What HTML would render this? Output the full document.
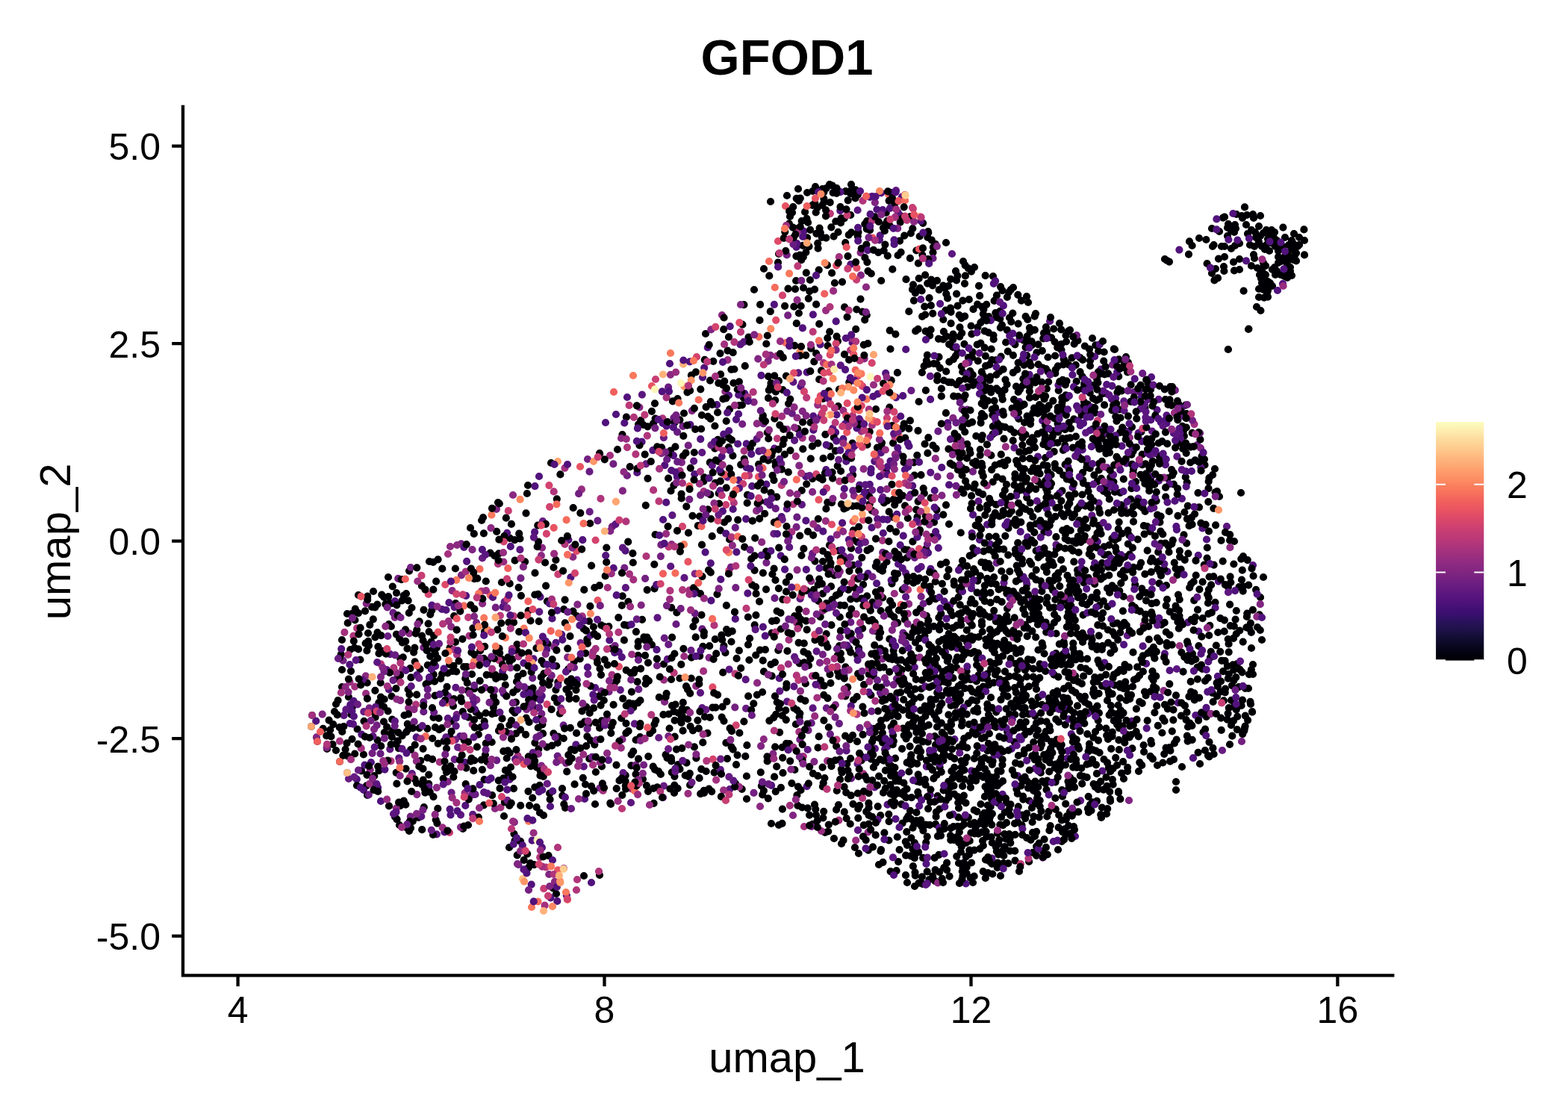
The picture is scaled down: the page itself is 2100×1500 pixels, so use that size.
<!DOCTYPE html>
<html lang="en"><head><meta charset="utf-8"><title>GFOD1 feature plot</title>
<style>
html,body{margin:0;padding:0;background:#fff}
body{width:2100px;height:1500px;overflow:hidden;font-family:"Liberation Sans",sans-serif}
svg{display:block}
.sr{position:absolute;left:0;top:0;width:1px;height:1px;overflow:hidden;opacity:0;font-size:1px}
</style></head><body>
<svg width="2100" height="1500" viewBox="0 0 2100 1500" role="img" aria-label="GFOD1 UMAP feature plot">
<rect width="2100" height="1500" fill="#fff"/>
<g fill="none" stroke-width="10.2" stroke-linecap="round">
<path d="M721.3 1003.2h0M1433.3 1041.7h0M1587.9 542.7h0M972.4 994.9h0M1360.1 1021.8h0M1581.6 762.5h0M1101.3 274.8h0M753.3 1065.7h0M1332.9 903.3h0M1501.3 958.1h0M1127 1130h0M1401.2 846.7h0M1436.9 737.6h0M464.5 995.4h0M1248.2 719.2h0M1388.4 911.2h0M519.6 952.4h0M1026.3 460.5h0M1161.5 595.6h0M1305.6 648.7h0M1308.2 1008.8h0M572.8 890.8h0M1334.4 502h0M1479.4 570.9h0M1197.4 826.3h0M1423.2 710.4h0M586.1 881.5h0M1485.5 930.2h0M1421.4 670.9h0M1360.3 888.9h0M1579.1 817.4h0M1414.8 735.2h0M755.1 816.1h0M652.9 885.1h0M1246.7 666.9h0M1528.4 578.4h0M1588.8 572.5h0M1073.7 296.1h0M864.6 916h0M1395.6 784.6h0M1307.9 938.7h0M940.5 772.1h0M1364.2 746.8h0M704.5 687.3h0M1382.6 883.8h0M1119.8 797.3h0M1211.2 315.7h0M1053 995.9h0M1362.3 494.9h0M1033.4 610.1h0M1534.7 931.5h0M1530.7 878.3h0M790.2 701h0M1076.4 872.9h0M1039.7 831.1h0M1228.3 609.8h0M739.2 998.7h0M962.7 660.7h0M1591 973.5h0M1142.4 756.8h0M1682.1 789.9h0M1328.1 697.9h0M1026.1 738.6h0M1021.1 927h0M1239.9 1104.7h0M1196.6 871.1h0M1397 1140.3h0M923.8 1035.8h0M465 822h0M1388.4 633h0M941.4 865.8h0M1526.3 799h0M664.5 872.2h0M1315.3 410.9h0M1285.5 613.1h0M1623.7 927.9h0M1548.6 670.8h0M1405.5 940.6h0M1230.5 1042.9h0M986 1024.1h0M1426.9 715.5h0M1463 453h0M1082.1 298h0M1002.2 932.4h0M1494 733.2h0M1498.2 504.2h0M874.1 978.5h0M796.3 997.3h0M1313.4 432.1h0M1456 620.8h0M1460.1 1077.6h0M1276.4 908.2h0M1395.4 792h0M1230.7 714.4h0M1125.1 1043.9h0M1456.1 882.3h0M1238.2 973.2h0M1332.8 744.9h0M627 1105h0M1353.5 1077.3h0M1473.9 907.2h0M1400.4 740.8h0M1426.8 970.6h0M1195.1 883.1h0M1361.8 546.4h0M797.7 967.6h0M797 1077h0M1319.8 1176h0M1182.2 800.5h0M1506.3 746h0M1327.2 525.5h0M484 1032.4h0M1363.1 945.4h0M1055.5 386.7h0M951 509.6h0M1353.7 388.1h0M1065.6 306.4h0M1604.6 1007.8h0M1301.4 447.4h0M1474.3 775.7h0M1589.7 646h0M1122.5 310.9h0M1289.5 1172.8h0M1358.4 579.4h0M1038.2 536.1h0M993.7 1056.8h0M1488.2 1002.9h0M1149.3 1095.6h0M1604.5 660.1h0M1299.5 607h0M1192.4 822.7h0M1198.2 676.1h0M1373.1 1096.1h0M1416.3 996.7h0M1258.1 1167.9h0M1010 388h0M1515.4 608.9h0M1549.2 945.4h0M1038.9 524.7h0M857.5 938h0M1431 806.3h0M1091.5 857.2h0M840.5 837.7h0M1355.6 546.9h0M1301.7 937.7h0M794.9 839.5h0M1403.7 498h0M1456.9 1083.1h0M1484.1 759.3h0M1337.6 789.3h0M1296.6 942.1h0M682.5 886.1h0M1390.5 746.6h0M1391.7 1094.5h0M1401 494.2h0M1268.5 973.6h0M1346.5 508.6h0M558.1 1049h0M1101.8 795.2h0M1322.2 774.9h0M1279.1 924.1h0M1381.7 457.4h0M942.4 644.7h0M687.1 927.3h0M1192.5 467.5h0M1577.4 562.5h0M1084.1 1091.6h0M1203.1 1154.1h0M1588.7 964.2h0M921 923.3h0M1143 937.5h0M1279.8 860.9h0M1130.7 292.5h0M1498.5 481.3h0M1211.6 915.1h0M524.8 986.9h0M1255 973.5h0M1305.4 1116.4h0M1402.6 623.9h0M1393.9 778.3h0M1546.4 954.4h0M1080.2 791h0M1528.1 753.8h0M1619.6 772.5h0M1506.3 994.7h0M1521.1 645.1h0M1491.8 965.2h0M1357.3 844.3h0M662.5 744.5h0M1446.8 1038.9h0M1241.9 475.7h0M843.7 625.2h0M779.5 952.4h0M1183.1 513.6h0M520.2 799.2h0M1139.1 1015.8h0M648 881.8h0M772.5 825.2h0M1302.1 565.3h0M1492.4 869.6h0M1084.9 375h0M1089.9 789.9h0M1490.6 1050.7h0M1402.7 659.2h0M1251.9 986h0M1490.5 907.9h0M1461.2 679.9h0M1533.6 684.9h0M1092 250h0M1514.3 537.9h0M1161.1 296.2h0M1378.5 1072.5h0M763.5 852.2h0M620 1110h0M1417.9 967h0M1491.8 903.7h0M1403.4 631.3h0M782.3 789.9h0M1400.1 530.7h0M682 1135h0M1113.5 1026.2h0M977.1 722.5h0M1366.9 910h0M1168.2 1045.1h0M1186.9 631.8h0M1353.3 1128.8h0M1223.9 619.3h0M1214.9 746.8h0M1526.8 846.1h0M1249.2 419.8h0M1148 993.2h0M1417.4 906.6h0M1533.4 546.5h0M903.7 986.7h0M1249.5 338.1h0M1209.4 975.5h0M1533.4 768.9h0M761.1 896.1h0M1198 767.9h0M1428.8 839.6h0M796.3 787h0M1223.1 966.5h0M1548.7 807.1h0M1379.7 703.7h0M1096.7 986.4h0M1248.2 1016.2h0M1290.6 567.6h0M686.5 951.6h0M1464.7 760.3h0M1148.1 726h0M1219.1 290.2h0M1534.2 621.3h0M709.1 1078.8h0M1217.6 884.2h0M1384.7 590h0M1339.3 416.8h0M1430.8 724h0M1002 863.3h0M1383 1115.2h0M1387.6 737.6h0M1472.5 810.8h0M1136.7 314.6h0M1196.7 668.8h0M1259.8 836.1h0M736.4 910.5h0M694.6 786.8h0M1287.3 830.4h0M1202 768.5h0M1292.9 369.4h0M459.4 1011.8h0M1369.6 586.3h0M1459.7 526.2h0M1048.8 478.9h0M1179.6 818.1h0M1075.1 565.3h0M1095.3 593.7h0M514 966.5h0M1284.8 1114.4h0M790.9 991.6h0M450 1005h0M1229.7 1037.3h0M1613.9 1005h0M744.4 750h0M1193.7 509.4h0M1395.6 1027.4h0M647.9 1078.3h0M1486.1 793.7h0M1147.3 414.5h0M1198.7 1040.9h0M510.2 944.8h0M1440.2 905.5h0M707.7 818h0M1618.3 672.1h0M1474.9 640.8h0M479.9 821.2h0M1227.4 980.9h0M1195.4 863.1h0M1192.3 932.8h0M1345.7 1087.9h0M1238.4 851.8h0M576.2 878.8h0M1504.2 492.2h0M1448.7 936.5h0M1512.7 987.3h0M539.8 880.3h0M1307.1 1045.6h0M799.5 882.2h0M1233.2 1098.3h0M1449.3 546.1h0M1515.4 654.2h0M1557.4 1021.5h0M1427.3 1117.7h0M1450 859.9h0M1353.5 882h0M1327 1064.2h0M525.2 963.5h0M1260.8 530.7h0M1459 996.3h0M835.9 857.4h0M1417.9 1031.9h0M1428.3 877.4h0M1186 300h0M997.8 490.2h0M1079.6 831.6h0M1515 930.8h0M1358 535.1h0M587.6 962h0M1156.8 461.8h0M1462.6 856.8h0M1081.1 318.4h0M1660.3 844.5h0M1064.3 462.8h0M1381.2 755.6h0M1117 1123h0M1338 735.4h0M492.2 798.7h0M1232.6 815h0M1308.7 461.5h0M1483.2 661.1h0M572.5 1015h0M732.9 805.4h0M1385.7 423.7h0M1677.1 953.7h0M1329.7 645.5h0M1410.6 928.1h0M501.3 1039.2h0M1350.5 832h0M1095.8 695h0M1212.3 586.5h0M1163.8 831.5h0M1423.9 602.9h0M1125.9 875h0M1246.8 409.2h0M1457.6 1006.3h0M1359.4 635.1h0M1408.2 452.3h0M1590.5 884.2h0M1298.6 602.5h0M1250.4 1042.7h0M1378.9 485.4h0M1271.1 461.1h0M891.6 1010.9h0M962.3 618h0M514 946.6h0M916 553.5h0M1117.5 770.4h0M1644.9 786.2h0M1322.3 943.2h0M1391.4 813h0M1354.3 431h0M1095.2 325.8h0M1215.2 778.6h0M1489.4 721.4h0M1639.9 830.6h0M487.5 965.8h0M1516.4 1002.4h0M1405.3 777.5h0M1276.3 464.9h0M1276.4 840.9h0M1570.8 723.6h0M1043.2 733.7h0M888.9 889.5h0M1498.6 754.3h0M1069.9 269h0M1395.3 545h0M1266.1 989.5h0M1373.8 644.7h0M934.4 964.8h0M1578.5 541.3h0M1416.2 465.3h0M1452.1 514.2h0M1520.3 783.2h0M1163.6 1091.9h0M1400.9 575.1h0M1537.5 874.7h0M1364 673.8h0M1635.2 961.6h0M1109.8 974h0M1100.5 861h0M1027.8 579.3h0M980.7 845.4h0M691.1 982.3h0M1139.7 1065.4h0M1232 709.9h0M969.5 965.6h0M1327.4 781.5h0M1517 919.5h0M1517.2 766.6h0M1514.4 685.6h0M1341.7 806.2h0M1353.3 1092h0M1193.9 1032.8h0M1442.5 849h0M1179.3 790.4h0M465.7 834.4h0M692.5 863h0M1145 1135h0M1625.7 756.6h0M1366 775.7h0M1531 641.1h0M649.9 1011.1h0M948.1 557.8h0M538.3 804.5h0M1322 964.9h0M1349.2 980.1h0M1287.7 1019.2h0M1686.7 823.3h0M1284.5 1000.6h0M1129.5 1125.4h0M1500.2 847.1h0M1210.8 567.6h0M1395.5 943.8h0M678.7 1015.5h0M973.4 939.6h0M1047.6 1000.8h0M1566.7 819.4h0M1250.7 767.7h0M1449.4 662.5h0M721.7 832.1h0M1385 546.6h0M1422.9 804h0M1652 854.9h0M1132.6 256.2h0M875.6 1075.8h0M1268.1 1155.6h0M1185.9 937.1h0M1609.5 611.2h0M577.5 859.7h0M1440.5 927.6h0M1293.8 1147.3h0M1550.4 761.8h0M1337.7 523.4h0M1161.4 351.1h0M1438.3 968.9h0M1072.5 1058.2h0M713.2 1068.6h0M1064.2 825.1h0M1473.1 686.8h0M1174.5 888.3h0M540.7 797.7h0M1306.5 1109.6h0M1317.3 428.3h0M1243.1 1083.1h0M1223.2 1021.3h0M432.7 975.9h0M712.7 938.5h0M498.1 812.9h0M1175.9 952.4h0M860 829.9h0M988.2 696.3h0M1563.7 640.3h0M1180 1138h0M1393.8 1035h0M899.2 1019.4h0M1365 1167h0M1425.7 551.1h0M486.9 1010.5h0M1236.7 654.1h0M1043 340h0M682.9 720.8h0M1301.2 1040.5h0M1450.4 701.1h0M1610.6 779.3h0M1112.4 914.9h0M1541.1 751.9h0M746.2 940.7h0M1140 734.4h0M778 970.1h0M1331.8 873.8h0M1357 792.1h0M1367.1 579.3h0M1155.1 841.7h0M1374 931.6h0M1236.1 1148.9h0M1298.9 832.7h0M1417.8 883h0M1481.4 607.3h0M1244.2 805.7h0M924.8 626.8h0M490.9 1052.3h0M1393 803h0M1542.1 995.9h0M1251.1 873.6h0M928 978.3h0M1327.6 1055.8h0M1296.9 1094.8h0M1413.7 495h0M1351.5 905.9h0M1309.5 438.3h0M1339.3 1104.5h0M910.5 1030.2h0M1634.2 872.8h0M1272.9 412.6h0M1295.1 758.1h0M1414.2 875.1h0M1530.6 680.4h0M1649.1 937.9h0M1106.4 760.8h0M671.9 882.8h0M456.8 876.4h0M1457.7 1066.8h0M1522.4 817.2h0M1370.1 1066.5h0M1034.6 636.9h0M1423 1114.1h0M1287.3 655.4h0M1452.3 722.8h0M689.6 750.7h0M1196.2 1058.1h0M1364.4 560.9h0M869.2 857.8h0M1335.7 1161.9h0M1422.9 587.3h0M578.3 817.5h0M1226.2 443.4h0M1459.8 1022.3h0M532.7 992.4h0M1343 1046.2h0M1363.2 727.2h0M1128 377.6h0M792.1 757.6h0M945 447h0M1239.1 421.5h0M1329.6 1019.4h0M912.6 661.7h0M1424.9 954.7h0M1326.4 851.8h0M610.2 808.1h0M1285 1124.2h0M781.7 842.1h0M914.7 610.8h0M1475.8 617.9h0M1487.4 874.7h0M1291 1155.4h0M1174.4 753.1h0M1418.8 630.3h0M1400.1 1049.5h0M1379.1 979.9h0M1561.8 846.5h0M623.7 1050.2h0M1227.1 820.3h0M1370.1 516.2h0M1040.6 818.5h0M1541.9 622.8h0M1284 1082.1h0M902.4 650.1h0M1146.2 440.8h0M1195.7 692.6h0M536 1079.2h0M1247.8 321.6h0M1230.9 855.2h0M1510.1 498.5h0M1007.3 783.3h0M1349 815.1h0M856.7 973.2h0M1468.5 769.6h0M1460 490h0M1403.5 757.7h0M892.6 928.8h0M1367.2 640.3h0M1283.6 799.9h0M1585.5 716.4h0M1252.6 1180.2h0M704.1 983.9h0M1029.8 522.6h0M1419 433.2h0M1036.9 699.7h0M1199.7 747.4h0M1073.2 348.2h0M1348.8 442.1h0M1500.9 951.4h0M1179.2 1092.2h0M1491.4 645.3h0M1132.1 985.6h0M845.9 926.6h0M1257.7 388.1h0M1569.8 979.3h0M652.6 1020.2h0M969.4 864.9h0M1412.8 937.3h0M1127 675.3h0M1427.5 449.2h0M1312.9 771.3h0M524.5 932.5h0M1073.4 744h0M1240.2 1128.4h0M667 673h0M531.9 908.5h0M861 1043.5h0M950.2 865.2h0M981.7 1003.7h0M1655.8 818h0M1432.4 776.7h0M1237.6 490.3h0M1209.1 663.8h0M1478.9 743.1h0M1199 1015.6h0M1354.8 684.5h0M1468.5 536.2h0M1643.9 892.2h0M1042.3 871h0M1577.4 833h0M1472.6 1008.1h0M1344 555.6h0M1437.5 973h0M877.6 716h0M1203.4 1039.7h0M967.2 856.8h0M858.2 563.1h0M1281 894.1h0M1388.1 1133.5h0M1315.3 1114.4h0M1240.1 735.2h0M1198.4 1028.1h0M1649 971.2h0M1249.1 918.5h0M1283.7 822.7h0M1319.3 689.9h0M786.3 856.2h0M1303 978.9h0M765.7 1015.7h0M455 1020h0M1610.2 895.8h0M1249.9 331.2h0M681.3 833.5h0M851.5 1036.8h0M1076.8 861.7h0M516.4 809.2h0M1124.1 865h0M1000.7 673.7h0M1290.6 534.7h0M580.7 903.4h0M1371.3 1009.3h0M756.8 834.4h0M1174.9 599.6h0M1645.8 948.1h0M1277.4 602.8h0M1472.2 973.8h0M1390.5 870.5h0M1543.9 1016.4h0M1136.8 851.6h0M848.9 901.1h0M602.4 986.7h0M980 589.4h0M759.2 1033.4h0M903.4 875.5h0M1345.5 911.6h0M1393.9 965.7h0M1404.2 590h0M1386.9 531.9h0M1410.6 777.6h0M1137.3 511.8h0M1428 533.2h0M1461.6 952.4h0M806 1026.5h0M1523.1 893.3h0M1464.7 913.6h0M1091.3 272.1h0M661.1 932.2h0M618.7 1011.4h0M1484.1 500.4h0M1466.1 782.2h0M1490.5 1029.4h0M1164.3 665.1h0M1496.5 900.6h0M1036 961.2h0M1414.4 680.1h0M1170.7 975.8h0M1177.1 1039.6h0M1361.5 797.1h0M1624.4 1001.9h0M1303.3 734h0M1239.9 522.9h0M841.4 805.8h0M907.5 534.2h0M730.1 753.5h0M974 1016.1h0M914.6 978.7h0M975.1 694.9h0M836.1 836.8h0M1286.9 1141h0M915.4 868.8h0M1323.2 1169.1h0M1235 982.5h0M1407.9 993.3h0M1394.5 1086.4h0M540.8 1072.7h0M1589.9 985.7h0M1135.7 268.3h0M531.4 1049.7h0M1509.3 762.9h0M1297.8 401.2h0M1189.5 957.1h0M1521.7 979.8h0M1348.2 824.5h0M1409.9 996.8h0M1273.4 1109.1h0M1294.5 1169.5h0M1031.1 1016h0M1158.2 428.3h0M1191.4 855.9h0M1574.1 599.6h0M819 868.7h0M1330.7 454.4h0M982.4 513h0M1338 497.9h0M1267.2 497.5h0M969.2 441.2h0M458.3 980h0M1140.2 311.4h0M1277.2 530.6h0M1531.9 704.2h0M1569.7 863.7h0M545.8 969.7h0M1641 922.6h0M1250.6 838.9h0M1139.2 288h0M1333.9 973.9h0M1584.6 899.6h0M736.1 1062.6h0M1337.2 1144.5h0M1326 1094h0M1406.4 978.4h0M768.8 886.1h0M1581.9 958.7h0M1431.1 819.7h0M1105 1115h0M1083.5 330.1h0M1522.3 560.7h0M848.2 947.4h0M1329.5 581.7h0M1228.5 692.3h0M1514.6 515.3h0M1314 1099h0M1033.6 847.8h0M857.3 987.2h0M1667.8 958.6h0M1586.4 686h0M1351.5 688.3h0M1288.3 626.4h0M1363.8 1080.4h0M558.3 843.6h0M594.4 992.6h0M1566.5 1001.2h0M1280.2 588.7h0M1413.4 1069h0M1304.9 1101.8h0M1398.3 712.5h0M904.4 598.4h0M731.1 784.6h0M1189.5 950h0M1247.2 374.6h0M1500.6 559.5h0M1348.3 794.8h0M581.1 851.4h0M1066.4 343.1h0M688 1056.1h0M1477.6 582.4h0M1270.4 957.3h0M1048.4 522.1h0M1205 322.7h0M1498.8 1004.2h0M1153.7 1018.3h0M1201 1058h0M1366.2 916.7h0M1530.9 899.4h0M757 1082h0M1293.7 1129h0M1150.3 764.4h0M1335.7 861.8h0M1267.6 450.7h0M442.2 977.5h0M1107.9 355.2h0M1497.6 965h0M994.4 434.7h0M1157.5 955.2h0M1495 738.8h0M1335.9 1116h0M1597 875.5h0M1088.3 256h0M776.7 882.5h0M1583.6 570.8h0M788 969.9h0M1553 616.5h0M1318.5 1104.9h0M1526.2 939.9h0M1208.6 1102.5h0M1616.8 954.8h0M645.1 697h0M1309.8 483.4h0M618.2 939.5h0M1674.9 834.7h0M1294.8 1014.6h0M1451 647.2h0M833.3 1064.8h0M747.6 986.6h0M1368.5 933h0M1375.2 666.3h0M1124.8 826.5h0M1090.3 484.4h0M1175.7 1080.1h0M1485.6 957.6h0M1112.7 611.7h0M480 869.4h0M689.3 723.1h0M1255.7 1066.1h0M1370 635h0M1214.2 1096.7h0M482.4 883.5h0M1385.6 828.6h0M1265.6 913.1h0M1303.1 516h0M1150.2 705.5h0M1357.6 947.8h0M1339 909.8h0M1318.8 784.3h0M1390.5 461.3h0M1052.8 779.6h0M1363.3 653.7h0M1304.7 1173.5h0M1368.5 1105.2h0M470 898.8h0M1120.1 1084.4h0M703.1 752.3h0M1450.9 1039.9h0M1275.5 1042.4h0M1378.1 1001.4h0M1509.7 491.6h0M1167.8 683.8h0M1234.2 964.2h0M1125.9 844.9h0M1307.3 584h0M1384.2 1058.9h0M1358.6 993.8h0M750.4 635.4h0M950.8 619.4h0M1130.4 681.5h0M1210.6 619.2h0M1280.7 855.5h0M1571.9 648.6h0M1636.2 884.8h0M1647.1 809.7h0M471.6 821.9h0M1424 488.4h0M1288 971.9h0M1122.1 899.5h0M1433.2 784.5h0M762 929.3h0M1196.1 593.4h0M525.2 807.8h0M1442 1027.8h0M1375.2 476.1h0M1406.7 1013.7h0M1166.4 931h0M974.5 469.7h0M1318.7 465.7h0M1677 953h0M1355.8 1031.6h0M1386.3 512.3h0M1301.9 478.6h0M1255.2 509.5h0M1263.6 1058.5h0M1372 628h0M951.6 560.9h0M1435.5 479.3h0M1415.3 990.7h0M1268.1 1165.1h0M1191.6 302.2h0M1433 1087h0M1348.4 871.5h0M1004.1 855h0M1343.6 684.2h0M509.7 914.5h0M1296.9 478.9h0M1418.8 862.6h0M520 773h0M968.3 515.6h0M771.5 935.8h0M1533.4 647.7h0M1375 640.6h0M1373.6 423.8h0M1372.1 984.1h0M1478.5 1017h0M875 567.1h0M1240.9 824.8h0M1287.8 776.9h0M1390.4 1016.6h0M1619.2 851h0M1169.7 905.1h0M1576.6 770.2h0M1308.4 1086.8h0M1259.9 913.2h0M741.5 760h0M919.5 1021.7h0M1310.5 904.3h0M608.5 1033.2h0M1133.7 1096.1h0M1456.3 983.1h0M925.9 502.6h0M1359.5 1152.6h0M745.8 668.3h0M1055.6 847.3h0M1279.8 476.8h0M1406.1 813.8h0M1223.9 402.6h0M1475.2 828.2h0M1328.7 548.4h0M1172.8 758.3h0M1402.9 839.9h0M906.4 820.4h0M1587.8 638.9h0M418 958h0M1230.7 372.9h0M1496.1 970.3h0M1110 523.5h0M1367.5 650.9h0M808.8 938h0M968.4 534.4h0M951.3 662.4h0M1421.5 890h0M650.8 778.5h0M1245.6 948.2h0M1312.6 822.3h0M1618.8 800.4h0M1238.3 410.7h0M981.7 472.2h0M1379.1 829.7h0M1187.5 752.5h0M530.9 849.6h0M1111.3 597.6h0M1323.2 778.9h0M733.7 862.5h0M1644.6 955.6h0M1235.4 341.6h0M1277.5 1052.3h0M1111.5 903.2h0M1572.8 753.7h0M1326.8 1040.9h0M1182.5 1154.8h0M1376.3 427.9h0M1532.1 1006.9h0M1509.4 687.3h0M1153.2 1012.7h0M985 1049.3h0M1343.9 1156.1h0M1657 889.2h0M1215.3 924.6h0M922 713.7h0M1379.8 673.3h0M1364.7 849.2h0M1310.4 980h0M1387.4 701.5h0M1160.8 306.6h0M1436.3 839.9h0M1561.7 886.3h0M634.2 1032.2h0M682.3 1078.9h0M1017.8 870.6h0M1390.4 1027.3h0M1315.8 908.2h0M1208.8 789.7h0M1106.8 808.1h0M948.2 682.3h0M1431.9 798.2h0M1366.6 1023.5h0M1032.5 660h0M1072.7 409.9h0M1379 532.7h0M1164.7 578.2h0M1494.2 1014.8h0M1330.9 914.3h0M1428.9 587.2h0M1307.2 623.5h0M1320.6 1113.8h0M1373.6 465.2h0M1213.6 989.3h0M1321 864.7h0M1219 1085.8h0M1516.3 810.9h0M1628.8 864.5h0M1272.7 620.7h0M491.4 871.3h0M1163.6 1062.2h0M954.3 947.7h0M1510.6 930.1h0M1192.5 1051.2h0M1557.3 715.5h0M1134.3 1022.9h0M932.4 1015.4h0M1171.7 833.9h0M1160.2 1087.1h0M602.5 867.5h0M1526.6 677.5h0M708 943h0M1566.3 916.1h0M1216.8 951h0M1690 857h0M1236.1 298.8h0M1282.9 629.1h0M1328.1 1070.2h0M1156.8 1105.2h0M1164.7 675.3h0M1359.2 1139.7h0M1343 663h0M1319.7 369.2h0M1360.8 778.6h0M1023 899.4h0M1163.9 903.2h0M1075.3 601.4h0M658.1 903.5h0M1151.1 1008.9h0M1285.8 810.2h0M1352 425.5h0M1068.3 574.4h0M1416.7 1040.8h0M1176.7 972.9h0M1142.1 636.2h0M1333.8 482.4h0M942.7 1058.9h0M1088.1 641.1h0M858.1 895.6h0M1526.3 1021.1h0M1204.6 1138.2h0M1263.3 428h0M1580.9 830.9h0M1416.3 929.8h0M1273.6 433.1h0M1315.1 632.4h0M1542 601.6h0M1411.6 903.7h0M1401.6 966.6h0M1389.9 978h0M1565.8 684.9h0M945.7 1033h0M1057.1 996h0M1096.7 361.6h0M1528.6 882.5h0M1407.2 840.2h0M1635.7 977.9h0M1663.8 763.7h0M1033 1103h0M1378.5 603.2h0M1148.8 316.4h0M1341 863.8h0M1339.9 438.9h0M1365.4 740.5h0M584.7 867.7h0M1577 537h0M1329.8 571.1h0M1054 262h0M1428.8 1093.1h0M1423.3 508.8h0M1299.7 807.4h0M1261.3 942.2h0M1088.1 274.9h0M466.9 933.5h0M1647.1 723.7h0M1079.4 337.8h0M1120.1 999.3h0M1678.6 771.3h0M1182.9 305h0M1009.3 942.3h0M1433.9 890h0M1466.4 552.8h0M1652.6 946.9h0M1484.5 742.8h0M1375.5 450.7h0M1228.4 778.1h0M1217.3 574.2h0M1459 467.6h0M1267.3 393.7h0M926 880.7h0M478.6 976.5h0M1162.6 660.1h0M1337.2 1075.6h0M1102.4 533.8h0M805 903.8h0M1487.9 945.2h0M1274.4 1032.9h0M1255.9 917.1h0M1291.3 1031.4h0M1301.1 664h0M1571.5 950.6h0M1343.3 689.6h0M1433 442h0M1409.4 577h0M1323 536.9h0M1034.4 769h0M1102 738h0M637.8 954h0M1232.2 991.2h0M1588.7 606.8h0M1487.2 639.3h0M1184.2 1045.9h0M1121.7 624.1h0M1449.6 504.4h0M1250.4 487h0M1428.2 890.3h0M1654.6 829.6h0M1618.7 644.8h0M1241.7 1120.6h0M1150 1143h0M1613.5 622.7h0M1253 1103.9h0M1064.4 1031h0M552.8 1099.9h0M1306.7 703.6h0M707.9 923.7h0M1290.5 660.5h0M1188.3 295.9h0M1092.3 1083.8h0M563.2 1018.9h0M1388.4 472.3h0M1507.5 987.7h0M1208.7 871.4h0M1315.8 800.7h0M1551.2 739.4h0M1141.6 593.7h0M1227.9 1046.3h0M1135.5 343.1h0M1268.4 772.2h0M1225.5 881.3h0M1363.8 524.9h0M692.5 871.4h0M1422 1127h0M738 620h0M1315.7 846h0M1310 874.7h0M1553.4 699.4h0M1251 699.4h0M1101.6 642.3h0M1470.3 837.2h0M851.6 991h0M864.8 676.8h0M1386.2 959h0M783 966.6h0M1132.2 325.1h0M1645.7 873.3h0M1276.5 447.7h0M1400.2 898.9h0M544 795h0M1012.2 877.5h0M1260.3 821.9h0M1299.2 1047.5h0M1137.1 481.9h0M1287.1 631h0M1299.7 1175.7h0M1589.2 727.6h0M740.6 1189.3h0M1277.6 778.7h0M1443 763.5h0M1290.6 877.9h0M1416.8 490.3h0M1591.4 741.3h0M1429.4 826h0M1147.8 677.5h0M689.5 1125.8h0M505.6 991.3h0M664.1 940.6h0M663.4 903.9h0M1316.8 919.6h0M718.8 1027.6h0M1359.9 736.1h0M1387 420h0M929.9 1000.4h0M1446 875.7h0M1361.1 874.8h0M586.3 1082.9h0M1178 762.4h0M741.4 982.3h0M1556.4 981.5h0M1601.7 770.5h0M1207 883.8h0M1255.9 894.7h0M1467.8 1005.6h0M1205.7 297.6h0M1185 871.9h0M1517.6 604.3h0M1377 405h0M820.8 967.8h0M1349.6 922h0M837.7 1038.4h0M1403.5 478.5h0M1408.6 945.2h0M1512 893.7h0M686.1 882.9h0M1303.7 741.4h0M597.9 1034.2h0M581.9 912.7h0M1295.9 855.3h0M981.4 610.3h0M1514.2 668.6h0M1342.7 534.9h0M1287.6 1107h0M638.9 1000.4h0M1031.8 417.2h0M1125.1 810.7h0M1275.1 1003.4h0M565.1 851.5h0M1161.2 798.3h0M1441.7 785.4h0M1640.7 927.4h0M1385.2 727.1h0M1476 754.1h0M1217.1 970.9h0M1455.7 1041.1h0M942.7 851.2h0M1359.4 957h0M1281.1 393.6h0M1451.9 538.3h0M1539.1 652.5h0M1384.5 975.1h0M1618.5 654.2h0M1182.2 994.7h0M1098.7 826.1h0M1126.8 1030.4h0M1544.9 866.8h0M1293.3 557.6h0M1155 417.6h0M1491.4 760.4h0M1421.2 461h0M1556.4 591.1h0M514.8 981h0M498.6 952.7h0M1360 695.9h0M462.6 1003.6h0M1541.4 992h0M941.3 994.4h0M491.7 914.5h0M1438.7 874.1h0M1572.6 825.8h0M1427.9 555.8h0M1323.5 1087.6h0M1483.8 843.5h0M588.2 977.2h0M697.2 1078.9h0M1190.7 685.4h0M1271.3 484.6h0M1070.7 888.3h0M1152.5 400.6h0M1419.3 785.2h0M1312.5 895.6h0M1266.5 855.1h0M1599.2 804.1h0M1267 676.3h0M1061.7 796.8h0M1255 375.8h0M574.2 1049.9h0M1569.1 629h0M1086.3 466.7h0M672.5 962.4h0M1302.7 471.6h0M1248.1 885.5h0M1316.8 1041h0M1102.4 1095.3h0M721.1 725.6h0M1457.6 658.1h0M1397.4 595.2h0M510.4 851.1h0M1347.1 458.5h0M1334.1 1039.8h0M1469.3 912.6h0M1275.3 824.2h0M996 532.9h0M825.7 1056.1h0M1462.2 800.1h0M580.5 960.8h0M1220.1 875.9h0M1550.8 971.9h0M1457.6 773.8h0M1497.8 708.6h0M1270.5 763.1h0M1413.2 891.5h0M1308.7 948.5h0M621.2 893.1h0M1194.5 648.9h0M1218.6 999.7h0M1669.4 840.3h0M1426.5 734.5h0M1173 548h0M1179.1 868.6h0M1411.3 948.9h0M1141.9 722.4h0M968.2 900.7h0M1230.1 1141.2h0M1375 397h0M531 794.1h0M1442.9 681.5h0M1509.3 921.1h0M1253 997.7h0M1126.1 631h0M1010.6 763.8h0M1132.4 932.3h0M1376.5 841.5h0M1295.3 874.2h0M1233.9 922.5h0M939.5 823.6h0M1664 937.7h0M1197 968.7h0M1333.8 832.1h0M1304.7 1085h0M1436 692.8h0M1426.5 899.9h0M1226 860.5h0M1230.6 538h0M1343.8 1138.2h0M1360.8 703.5h0M1383.8 906.6h0M1416.4 593h0M1405.5 972.7h0M1451.4 780.5h0M1093.1 407.7h0M907.6 1055.8h0M1242.4 606.9h0M710.9 1026.1h0M1560.8 727.5h0M1413.8 1083.8h0M1048.2 1014.9h0M943.2 639.3h0M1371.6 803.4h0M1108.3 452.8h0M1212.1 677.4h0M1673 903.2h0M1604 816.7h0M1345.3 1117.1h0M502.6 960.6h0M1582 593.8h0M1567.4 1005.4h0M1369.8 938.4h0M853.7 913.1h0M1579.9 737.9h0M1184.4 1115.4h0M719 934.4h0M574.4 912.8h0M964.5 473.3h0M956.6 1034.6h0M1586.8 749.8h0M1255.2 927.7h0M708.6 967.2h0M1459.7 627.1h0M812.3 733.5h0M1311 382.9h0M1284.7 790.3h0M548.4 930.1h0M1484 601.4h0M1437.3 861.6h0M1207.7 897.2h0M1235.1 423.8h0M1427.5 485.4h0M1373.5 582.2h0M1618 807.7h0M1076 385.5h0M1422.2 1058.2h0M1378.1 1153.9h0M895.5 956.5h0M1552.5 610.8h0M1443.7 768.8h0M1450.6 771.7h0M717.9 948.7h0M1178.2 894.2h0M728.3 889.3h0M1335.7 898.2h0M1288.7 606.6h0M1585.9 583.9h0M1270.6 928.8h0M1340.5 965.8h0M1411.1 592.9h0M1003.4 884h0M818.3 981.8h0M1169.9 989.1h0M837.6 1046.1h0M1105.4 581.8h0M1543.7 617.5h0M707.8 874.4h0M1406.9 666.8h0M1243.4 830.9h0M1186.7 285h0M1639.7 845.7h0M756.6 803.3h0M510.2 999.2h0M1106.4 318.6h0M1525 1033h0M1422.2 543.5h0M1071.3 955.6h0M1318.3 1088.8h0M1498.9 548.5h0M1088.4 1103.9h0M1103.3 930.9h0M1276.9 1107.1h0M1215.8 736.6h0M957.4 570.5h0M1389.5 1063.4h0M1370.3 507.4h0M631.4 873.7h0M1108.6 463.2h0M1369.2 1091.5h0M938 795.2h0M1627.5 806.8h0M1441.3 1022.7h0M1440.8 883.4h0M977.1 548.2h0M1303 1182h0M499.6 1050.4h0M635.2 922.5h0M1080.7 843.4h0M1290 350h0M1198.2 273.1h0M1312.1 816.4h0M1043 1105h0M1130.6 1053.8h0M1326.6 1080.4h0M1365.2 686.9h0M1470.5 884.4h0M1252.6 907h0M884.9 1037h0M1417.7 523h0M1376.5 460.1h0M1145.5 265.4h0M1252.8 1020.4h0M983.4 494.5h0M1470.4 588.2h0M658.7 994h0M1494.8 956.3h0M1534.3 521.5h0M1097.2 508.2h0M1185.4 327.6h0M1410.1 790.4h0M1438.2 561.4h0M592.1 902.7h0M1535.4 794.2h0M1196.8 992.5h0M1388.4 505.2h0M574.2 1037.7h0M1599.8 937.5h0M1314.5 1022.7h0M1288.8 1167h0M1051.3 310.6h0M688 833.7h0M1299.2 497h0M1217.2 919.1h0M977 627.3h0M1328.1 629.1h0M1204.3 1062.4h0M931.3 830.8h0M957.4 600.7h0M1438.1 790.6h0M1659 920.2h0M1386.6 916.2h0M1412.8 621.4h0M505.5 847.2h0M1553.1 858.9h0M1433.7 734.6h0M1091.5 751.6h0M1316.7 1167.1h0M1220 1024h0M1317.3 738.3h0M1385.8 1017.3h0M1286.2 929.3h0M1384.5 1093.6h0M1266.9 553.2h0M493.2 858.8h0M560.5 1094.9h0M1426.6 622.2h0M1057.1 772.3h0M872.9 550.8h0M1232 1047.4h0M561.7 832.4h0M1228.2 1022.8h0M1444.3 1087.4h0M1541.8 766.1h0M1242.3 835.6h0M1335.9 573.8h0M1352.6 1122.8h0M878.3 965.1h0M1347.8 1075h0M1294.8 844h0M1058.5 603.3h0M1101.9 1053.4h0M934.8 704.1h0M1345.1 857.8h0M1398.6 534.4h0M548.1 764.6h0M1383.3 1141.8h0M800.1 852.2h0M1302.5 926.4h0M1287.1 837.2h0M1048.3 802.8h0M1566.6 850.3h0M1197.4 1065.6h0M1145.8 254.3h0M1322.6 1005.5h0M530.7 1034.8h0M1288.6 636.5h0M1142.5 1076.8h0M1539.2 657.5h0M1426.8 515.3h0M1373.8 966.8h0M1667 975h0M1229.3 1060.8h0M1416.8 545.9h0M1194.5 781.6h0M1404.6 543.4h0M1224.8 1149.1h0M566.6 1002.8h0M1282.5 409.7h0M1221.7 958.5h0M1370.7 455.6h0M1445 612.3h0M1578 796.6h0M1322 595.4h0M1313.2 1038.9h0M1487 1073h0M1093.4 312.8h0M1204.2 1046.2h0M696.4 721.4h0M1222 387.7h0M1505.9 773.7h0M1123.2 737.5h0M1422.5 657.3h0M1443.5 456.1h0M536.2 882.1h0M1508.8 837.5h0M1392.6 889.3h0M1450.6 823.6h0M1079.2 475.8h0M671.9 780h0M1371.4 488.8h0M1591 863.2h0M1598.7 779h0M1155.4 946.6h0M1547 718h0M1101.5 253h0M1210.4 1048.7h0M649 846.2h0M789.3 1016.2h0M475.8 815.7h0M1154.1 801.7h0M955.3 483.8h0M1150 868h0M908.7 954.9h0M1377.1 809.6h0M1529.8 622.5h0M861.5 569h0M471.9 947.1h0M1002.5 451.6h0M1285.2 450.9h0M1171.9 980.3h0M1122.6 544.2h0M1001.9 826.5h0" stroke="#000004"/>
<path d="M997.4 527.1h0M1136.9 722.8h0M1240.8 1026.6h0M758.8 1199.1h0M772.8 910.5h0M635.9 950h0M761.4 723h0M771.4 997.4h0M1149.8 755.3h0M1622.4 924h0M1393.8 705h0M1076.4 309.6h0M1575.4 705.2h0M623.3 1078.9h0M1630.9 905.8h0M906.9 638.6h0M1576 709.5h0M1468.2 813.3h0M947.8 465.4h0M1138.8 506h0M1352.7 800.7h0M591.8 816h0M746.3 1206.9h0M1455.2 788.7h0M988.2 594.5h0M1331.8 1074.1h0M1369.7 480.8h0M712.7 1125.7h0M578.4 810.6h0M1515.9 965.9h0M1507.1 577.2h0M1036.9 407.8h0M1089.2 557.4h0M1177.9 321.3h0M1079.2 638.1h0M989.3 643.2h0M1588.7 651.6h0M1582.9 667.9h0M1166.6 628.2h0M1508.6 620.4h0M1129.4 587.9h0M1245.6 1064.4h0M1331.7 1011.2h0M1516.5 598.8h0M1089.4 576h0M1416.3 1125.6h0M1440 1120h0M746.3 817.7h0M739.5 828.4h0M977.7 437.1h0M1339 915.2h0M732.1 869.9h0M1293.6 1183.5h0M1239.2 1134.3h0M616.2 986.2h0M1542.8 789.3h0M1133.3 618h0M1141.6 458.9h0M821.7 760.9h0M1549.6 549.1h0M679.1 713.8h0M1066.6 330.9h0M1479.3 887.5h0M484.3 983.6h0M1224.8 893.6h0M1540.3 609.1h0M1367.7 990.5h0M1349.3 699.2h0M1365.4 987.1h0M1541.1 681.4h0M1088.9 421.3h0M1401.9 681.4h0M1193.7 777.1h0M790.7 850.9h0M1448.3 760.9h0M874.3 603.1h0M1365.4 454h0M845.6 836.4h0M1347.7 975h0M1396.2 563.4h0M1351.7 983.4h0M1203.1 755.5h0M1457.1 955.7h0M1269.2 566.4h0M1488.5 648.7h0M943.2 492.6h0M1301 1032.3h0M1606.2 958.8h0M1631.9 778.7h0M1192 278.8h0M1080.7 498.6h0M1155.3 665.3h0M999.7 594.4h0M976.2 577h0M999.7 626.1h0M1524.4 667.5h0M816.3 857.5h0M603.5 1091.4h0M1096.1 257.2h0M1382.5 1075.4h0M1551.9 644h0M1352.2 449.8h0M1209.2 530.2h0M1530.6 865.4h0M1080.7 1053.2h0M1199.5 1096.8h0M1566.6 898h0M1562.5 556.4h0M1371 474.7h0M1601.3 958h0M1204.5 1108h0M487 1058h0M1547.1 666.2h0M1528.9 531.5h0M1261.2 626.2h0M1581.2 587.4h0M1259.5 814.7h0M1266 873.1h0M1223.1 1045.2h0M1086.8 797h0M924.4 568.8h0M1501.4 743.2h0M1560 563.4h0M1179.8 606.3h0M1207.9 263.8h0M1199.2 865.2h0M1342.7 1063.9h0M1382.4 802.3h0M1120.5 555.5h0M1264.6 805.4h0M1354.8 1002.8h0M1334.4 491.3h0M1200 532.3h0M1188.6 625.1h0M797.1 921h0M1151.2 649.5h0M753.3 856.8h0M1487.9 747.9h0M1004.9 628.2h0M1418.3 556.6h0M529 805h0M1562.4 566.9h0M1573.5 670.9h0M1301 788.1h0M984.8 828.9h0M1202.7 606.6h0M1418.2 950h0M1430.1 1005.6h0M1469.8 725.5h0M1434.2 803.6h0M1436.5 653h0M1610.4 707.5h0M1175.5 527.7h0M622.7 1021.2h0M1535.1 888.9h0M1233.3 295.9h0M1045.7 744.3h0M1363.1 1039h0M1519.5 776.8h0M999.1 695.1h0M1195.1 946.6h0M1033.1 1051.9h0M1330.8 379.8h0M740.2 1059.7h0M714.5 882.4h0M1476.4 1032.5h0M1392.2 735.9h0M1245.5 893.4h0M1016.4 604.4h0M1162.5 768.1h0M1163.6 927.2h0M1336.6 552.3h0M1157.5 805.3h0M1385.4 478.4h0M1303.1 689.4h0M1375.2 1018.6h0M1175.5 1097.8h0M1488.9 534.3h0M1482.2 515h0M1436 1003.1h0M1374.9 659.8h0M879.5 870.2h0M1418.9 660.6h0M1571.9 580.2h0M1188.6 1077.7h0M1341 1080.1h0M683.8 731.9h0M1109.1 533.7h0M730.9 858.8h0M1257.8 1108.5h0M823.2 874.1h0M1560.9 622.4h0M1582.2 546.5h0M1192.5 617.7h0M1178.7 315.3h0M1678 757h0M1563.5 765.5h0M1604.8 743.9h0M1529.2 591.2h0M1559.9 875.4h0M756.9 1067.9h0M1474.4 494.5h0M1281.8 868.1h0M1524.6 580h0M1365.1 538h0M1509.6 671.9h0M1481.8 527.2h0M1119.1 579.1h0M1448.6 752.3h0M1026.4 648.7h0M602.6 1083.8h0M1410.8 1127h0M1244.8 790.1h0M1032.3 737.9h0M859.6 591.7h0M1289 792.2h0M832.8 880.1h0M1577.8 941.2h0M1125.3 282.2h0M673.6 812.7h0M624.1 797.9h0M1444.2 563.2h0M1566.3 648.1h0M673.2 898.8h0M506.1 1054.8h0M1577.5 554.4h0M1431.2 963.2h0M1404.2 713.3h0M1541.9 638.2h0M1139.3 354h0M938.2 588.2h0M1525.4 524.4h0M1125.5 257.2h0M1164.6 974.4h0M1449.7 602.3h0M1188.5 999.9h0M1409.3 900.4h0M577.9 896.5h0M1557.7 607.6h0M1542 505h0M496.9 1021h0M488.4 1024.7h0M1180.1 258.5h0M1590.8 833.7h0" stroke="#51127c"/>
<path d="M1149 1111.9h0M1135.2 564.4h0M460.6 958.2h0M1179.3 656.2h0M1543.3 779.4h0M1505.6 680.6h0M1284.1 953.9h0M1273 588.2h0M880.5 827.3h0M929.1 617.6h0M633.2 1090.9h0M648.1 1061.1h0M711 947.5h0M1525.7 620.4h0M1255 1071.4h0M1386.5 1029.4h0M844.6 952h0M1275 340h0M1414.5 729.6h0M1543 577.5h0M1115.3 573.9h0M1062.4 511.6h0M1505.2 537.3h0M964.9 1030.9h0M1576 896h0M1175.2 695.2h0M1073.9 675.9h0M1133.6 1005.4h0M522.3 1003.3h0M597.3 987.4h0M1462.4 690.3h0M1088.6 948.4h0M564.3 1093.3h0M1233.7 759.1h0M1057.2 732.9h0M1545.5 607.4h0M1334 564.6h0M1026.6 672.4h0M977.3 1057h0M1527.4 547.5h0M1069.2 499.3h0M916.5 773.9h0M1285.3 1008.5h0M1645 793.2h0M834.6 1035h0M1171.9 1002.7h0M1509.9 851.2h0M1486.8 652.3h0M1310.4 671.4h0M837.9 787.1h0M551.8 1036.1h0M1375.3 782.4h0M1481.1 579.8h0M1661 885.6h0M830.8 924.1h0M713.7 1008h0M898.2 758.5h0M1242 1148.7h0M1455.9 614.5h0M1064.1 589.8h0M1037.2 600.5h0M1171.4 1054.5h0M976.6 896.6h0M1576.4 611.4h0M1125.8 489.3h0M1472.4 575.6h0M1213.1 767.5h0M522.4 876.1h0M1071.6 802h0M953.8 623.4h0M1471.5 673.5h0M472.9 969.7h0M1545.3 680h0M1246.3 632.8h0M814.9 1018.1h0M584.9 1117.4h0M849.9 969.4h0M1148.6 281.5h0M617 1091.3h0M534.3 1015.3h0M1272.5 810.3h0M1358.4 599.6h0M1406.1 430.2h0M974.1 638.8h0M1505.6 550h0M940.2 606.1h0M996.2 457.9h0" stroke="#5c167f"/>
<path d="M1106.9 948.3h0M882.3 988h0M1583.5 722.8h0M1142.2 856.8h0M1583.8 557.2h0M526.5 820.6h0M746.7 1012.6h0M1086.7 968.4h0M1474.2 555h0M1249.5 346h0M902.4 559.6h0M777.6 861h0M1182.3 665.8h0M1518.8 525.2h0M940.4 842.4h0M1111.9 983.3h0M1130.6 904.3h0M732.8 1049.7h0M889 1052.7h0M1038.8 681.2h0M945.4 950.7h0M632 1064.7h0M984.8 706.7h0M1029.3 1050.2h0M792.9 1013.8h0M1139.3 833.4h0M713.2 908.1h0M581.2 954h0M608.7 1017.1h0M907.1 578.6h0M1130 744.6h0M789.5 631.7h0M952.4 596.2h0M1236.6 808.5h0M1200.9 909h0M1140 1042.5h0M636.5 1063.9h0M694.3 1158h0M888.9 586.1h0M675.6 806h0M754.7 971.4h0M600.2 932.4h0M567.3 953.2h0M1603.4 596h0M800.4 697.4h0M722 947.6h0M1200 255h0M965.1 1016.7h0M487.3 953.2h0M925.5 871.2h0M1334.6 753.9h0M1056.3 829.4h0M895.1 518.7h0" stroke="#681c81"/>
<path d="M1302.9 631.7h0M554.7 966.7h0M1053.8 341.5h0M725.3 955.9h0M805.3 925.6h0M751.2 948.7h0M923.3 668.8h0M549.8 1093.7h0M884.9 745.1h0M662.4 924.3h0M819.8 705.4h0M738.7 904.7h0M836.3 760.5h0M1138.1 638.5h0M1182.2 739.9h0M1108.6 896.1h0M815.5 926.4h0M494.6 948.4h0M1009.5 1061.9h0M823.6 864.8h0M1255.5 638.3h0M550 760h0M1133.3 999.1h0M617.7 728.3h0M683.4 982.6h0M1151.5 851.3h0M1288.4 548.1h0M1490 488.7h0M609.9 990.7h0M1066.6 705.9h0M1295.2 548.7h0M1071.4 990.4h0M1573.9 522.6h0M787 615h0M1590 542h0M611.7 957.1h0M839.9 637h0M649.7 921h0M1094.9 707.1h0M533.2 774.9h0M1022.3 567.4h0M1061 830.2h0M845.2 910.4h0M1151.5 974.8h0M880 891.5h0M567.3 867.2h0M496.7 965.1h0M1026.4 753.6h0M914.5 570.9h0" stroke="#732081"/>
<path d="M1244.6 702.6h0M1015.3 480.7h0M725.1 1025.5h0M855.2 1044.4h0M1059.4 1030.5h0M1608 600h0M632.5 736.2h0M1114.9 813h0M930.7 768.4h0M1181.9 882.3h0M833.5 990.2h0M528.8 826.8h0M1118.9 944h0M760.2 880.4h0M431.7 956.6h0M932.4 1010.4h0M817.3 711.2h0M890.1 939.9h0M1009.7 538.6h0M926.8 550.1h0M1098.7 918.3h0M1287 590.1h0M730.7 875.9h0M735.3 1171h0M599.7 1046.8h0M1152.6 338.4h0M688.8 1101.2h0M1062 1092h0M1088.1 658.9h0M1028.7 483.7h0M721 1009.7h0M1031.8 475.8h0M423.9 987.4h0M1171.9 271.2h0M773.4 809.7h0M1202.2 305.9h0M857.8 991.9h0M617 1107.9h0M1185 908.2h0M683.6 894.5h0M679.5 814.3h0M664.9 681.8h0M1088 587.4h0" stroke="#802582"/>
<path d="M557.9 1019.4h0M1231.9 880.4h0M1187.8 655.1h0M1072 925.6h0M1013.1 684.2h0M1531.6 836.9h0M835.5 632h0M547.2 948.2h0M1512.9 586.1h0M812.9 962.6h0M495.7 1031h0M1256 1182.4h0M726 733.6h0M663 1083h0M1054.1 575h0M1162.6 1114.5h0M1143.9 663.9h0M1295.8 829.4h0M742.9 1180.8h0M922.2 997.5h0M1086.4 778.5h0M1067.6 763.3h0M803.6 1020.9h0M1230.9 700h0M971.3 524.4h0M1558.8 639.7h0M1018 1080h0M1067.5 559.5h0M489.8 905.3h0M1064.1 572.6h0M767.3 746h0M535.2 1019.8h0M1140.7 601.9h0M1205.5 703.4h0M548.2 848.3h0M967 422h0M1683.3 825.9h0M646.1 808.3h0M932.2 918.9h0M1206.7 904.3h0M1558.5 925.2h0M1236.8 822.9h0M1172 686.1h0M775.6 1018.2h0M1102 817.8h0M1357.2 853.7h0M530.7 1082.6h0" stroke="#8b2981"/>
<path d="M1321.9 650.3h0M1139.8 453.1h0M969.1 1058.3h0M863.7 989.1h0M555.6 1011.7h0M845.7 1056.4h0M889.1 910.6h0M494.9 1049.9h0M943 801.5h0M714.6 1115.5h0M1040.2 476.9h0M990 1053.8h0M1129.4 549.8h0M778.9 655.4h0M632.6 970.1h0M1356.2 804.2h0M1146.2 1125.5h0M539.2 896.1h0M1153.7 577.7h0M1215.8 821.9h0M1055.8 889.5h0M622.6 1062h0M1067.3 834.7h0M892.1 714.8h0M490.1 928.9h0M1067.5 310.6h0M755 1163h0M600.7 832.1h0M1573 552.9h0M1108.1 1019.1h0M916.3 879h0M1182.4 635.3h0M1179.5 797.5h0M552.2 1040.2h0M468.4 913.3h0M1346.9 598.3h0" stroke="#982d80"/>
<path d="M970.1 461.1h0M1001.6 532.2h0M1075.8 1013h0M642.5 885.9h0M923.2 790.6h0M1599.5 568.1h0M1221.1 738.5h0M611.4 1075.1h0M1514.3 497.7h0M1047.1 557.7h0M1087.9 905.3h0M817 610h0M1070.3 980.2h0M1057.9 1078.8h0M1123.8 344.2h0M685.8 868.8h0M1074.7 586.6h0M779.8 825.4h0M1181.9 723.8h0M694.3 879.5h0M600 742h0M628.5 851.6h0M483.7 1002.2h0M693.5 1012.2h0M750.9 1018h0M670.4 1081.5h0M1123.4 1098.6h0M1056.5 857h0M1279.6 597.1h0M588.8 1020.7h0M1127.1 932.1h0M1025.8 474.7h0M1252.3 666.3h0M1060.3 712.3h0M1437 901.7h0M910.6 630.6h0M813.8 787h0M1168 569.3h0M942.5 658h0M607.8 870h0M819.6 903.9h0" stroke="#a3307e"/>
<path d="M840 599.1h0M866.8 583.6h0M962.3 599.1h0M756.5 729h0M701 862.5h0M1139.1 469h0M875.1 656.4h0M478.1 841.3h0M1155.1 1068.9h0M1062.2 675.5h0M1377.4 1149.8h0M956.5 837.4h0M668.2 884.2h0M982.8 673.4h0M803.3 608.3h0M1066.8 904.6h0M557 943.5h0M1003.1 636.9h0M1124.3 644.7h0M473.4 851.7h0M887.4 560.3h0M747 1135h0M523.5 1019.3h0M723.2 1148.2h0M1167.9 295.3h0M741.7 658.4h0M644.9 791.9h0M1038.7 846.7h0M897.4 791.2h0M1142 556.9h0" stroke="#b0357b"/>
<path d="M617.7 1002.5h0M976.4 1064.2h0M1216.1 789.8h0M1214.6 294.8h0M1046.1 894.7h0M1118.7 566h0M1120.6 990.7h0M627.2 826.9h0M688 825h0M1041 587.4h0M731.2 1161.5h0M1198.7 585.2h0M1069.5 910.8h0M863.4 555.7h0M1022.8 488.5h0M1107 653.8h0M1072.8 798h0M1046.8 650h0M1157.8 576.3h0M510.1 889.4h0M1088.7 444.3h0M1111.9 286.1h0" stroke="#bc3978"/>
<path d="M1530.4 573.8h0M1469.9 563.3h0M602 1115h0M995.2 648h0M1135.4 359.9h0M972.2 676.1h0M641.3 862.5h0M1163.1 584.7h0M1187.9 559.9h0M1153.2 564.5h0M1449.6 532.2h0M1181.7 746.5h0M564.5 770.9h0M728.3 1190.2h0M679.6 802.1h0M747.4 769.2h0" stroke="#c83e73"/>
<path d="M573.8 795.9h0M980 666.9h0M976.4 764.1h0M1155.3 517.4h0M1148.5 504h0M1091.3 849.9h0M731.9 714.9h0M1155.9 696.5h0M493.1 954.9h0M985.7 971.3h0M1093.1 635h0" stroke="#d3436e"/>
<path d="M713.6 816h0M1063.1 499.7h0M772.2 738.1h0M1231 735.1h0M1098.8 530.3h0M1133.2 556.7h0M1110.7 498.3h0" stroke="#df4a68"/>
<path d="M873 517h0M1168.6 318.5h0M970.5 635.6h0M1212 261h0M747.1 1165.3h0M586.7 846.7h0M1147.3 791.1h0M800.5 804h0M1144.4 549h0M1133.7 331h0M777 625h0M1015.9 638.5h0M1203.4 269.2h0" stroke="#e85362"/>
<path d="M656.7 797.1h0M680.3 761.1h0M1145.7 495.5h0" stroke="#f05f5e"/>
<path d="M904.4 767.6h0M570.1 986.2h0M850 1059.1h0M1037.8 385h0M1232.7 789.7h0M720.6 1207.5h0M1190.1 260.4h0M1052.3 459.1h0M598.7 941.2h0M1198.3 659.9h0M758.6 696.3h0M1169.2 563.3h0M1212 268.4h0M621.3 811.3h0M745.5 675.3h0M642.5 762.2h0" stroke="#f56b5c"/>
<path d="M658.4 689.7h0M677 854.2h0M648.2 827.6h0M712 1215h0M641 795.2h0M1153.5 500.7h0M1187.4 567.1h0M600.7 872.6h0M898 473h0M708 1100h0M916 729.2h0M1057.1 366.3h0M701.8 841.7h0M1203.8 583.7h0M1160.5 589.9h0M976 739.9h0M758 1195h0M1160.7 534.7h0" stroke="#f9795d"/>
<path d="M1071.2 471.3h0M1178 256h0M1142.1 909.6h0M634.9 885.5h0M653.6 843.9h0M1115.6 507.2h0M1143.3 522.7h0M790.9 821.8h0M1196.5 530.3h0M740 1214h0M750 1180h0M1125.5 709.4h0M1149.1 499.4h0" stroke="#fc8961"/>
<path d="M1112.2 555.5h0M1136.3 518.1h0M916.4 517.7h0M795 618h0M925.7 509.3h0" stroke="#fd9668"/>
<path d="M1232 290h0M824.9 671.8h0" stroke="#fea571"/>
<path d="M809.9 711.5h0M887.9 501.5h0M915.1 487.6h0" stroke="#feb27a"/>
<path d="M700 1177h0" stroke="#fec185"/>
<path d="M1104.5 557h0" stroke="#fddc9e"/>
<path d="M719.6 1125.3h0M877.1 521.3h0" stroke="#fcf7b9"/>
<path d="M1056.9 299.6h0M1512.8 742.6h0M1197.1 1078.9h0M792.1 1053.2h0M1487.1 1033.2h0M833.7 798.3h0M1395.1 511.8h0M1343.2 551.2h0M1279.2 944.6h0M823.2 914.7h0M1215.8 694h0M939.3 1030.2h0M1548.3 905.6h0M1667.6 972.5h0M1240.2 887.9h0M1412.1 822.8h0M1314.2 1017.2h0M1615.7 959.8h0M1367.5 869h0M1168.5 806.5h0M1269.7 914.9h0M1097.4 639.9h0M1102 752h0M802.9 784.1h0M1471 991.6h0M1489.7 929.3h0M1307.1 511.7h0M1684 840h0M1198.4 738.7h0M1073 464.2h0M857.5 969h0M1381.7 939.3h0M1232 385.9h0M1201.8 884.3h0M677.3 979.9h0M1287 916.5h0M1469.5 714.2h0M1234.9 911h0M1417 1138h0M749.9 955.7h0M1396.3 492.6h0M1441.7 510.9h0M663.5 955.2h0M882 1033.1h0M1108.3 672.8h0M543.6 1029.6h0M1079.8 365.3h0M596.2 1028.7h0M1455.6 1023.7h0M924.1 523.2h0M1070.3 837.7h0M1038.4 619h0M1379.7 685.1h0M1337.7 577.7h0M1350.5 1005h0M1160.8 422h0M795 948.4h0M1545.2 877.6h0M1067.4 1065h0M975.9 599.2h0M1329.3 1170.5h0M1508.6 964.8h0M1578.8 841.7h0M1439 1111.1h0M1382.4 845.3h0M1453 932.9h0M1366.1 521.4h0M1263.4 1018.4h0M1412.9 886.8h0M1187.7 1013.5h0M547 956.4h0M1183.6 893.6h0M1130.8 908.6h0M1330 370h0M535 855.1h0M603.5 1026.1h0M627.1 993.6h0M1299.9 1054.6h0M1533 926.5h0M1173 721.7h0M1484.9 892.8h0M1085.8 614.3h0M1406.7 785.2h0M1675.9 896.9h0M1398 446.2h0M1542.2 820.2h0M1581.3 550.7h0M1405.2 1033.4h0M1209.5 611.6h0M1217 943.8h0M854.5 865.7h0M1555 770.8h0M1482.4 1052.9h0M1246.6 441.7h0M957.8 856.2h0M1561.7 811.1h0M1400.5 1017.3h0M1233.9 968.9h0M1068.9 1053.6h0M874.7 1026.7h0M1448.2 882.5h0M1190.4 1125.5h0M1139.3 873.7h0M1340.1 384.2h0M728.5 902.1h0M644.7 1017.7h0M1279.7 955.2h0M1311.4 923.2h0M754.8 989h0M880.3 1054.4h0M1181 931.5h0M1667.8 921.8h0M566.7 1044.7h0M716.4 994.8h0M566.5 1029.7h0M1399.8 583.8h0M1133.2 1061.4h0M726.6 861.5h0M1383.5 821.3h0M1191.7 442.6h0M1013.9 930.6h0M1179.2 847.1h0M1660.7 896.8h0M1010.7 837.1h0M1620.9 880.6h0M1012.4 823.9h0M1296.1 907.7h0M984.1 1053.6h0M1475.3 587h0M818 1077h0M1288.2 883.1h0M1074.7 997.1h0M1478.2 657.9h0M1401.5 1057.6h0M668 978.7h0M1527.6 635.9h0M1073.8 656.9h0M1474.9 500.4h0M1065 387.1h0M1293.6 815.3h0M1109.8 1104.5h0M1173 1021.7h0M1420.8 809.4h0M896.6 975.5h0M845.4 1025.3h0M552.9 975.2h0M1180 965h0M1038.5 777h0M1431.9 832.4h0M535 1105h0M800 887.6h0M912.3 889.9h0M1467.5 822.4h0M1443.8 718.6h0M677.8 693.7h0M1483.1 1021.6h0M1103.4 257.3h0M1396.9 986.1h0M1438.7 460.7h0M1536.7 737.4h0M943.9 960h0M1273.6 945h0M1497.6 615.4h0M1227.4 1088.2h0M1529.7 608.7h0M1319.1 753.5h0M1330.1 1006.8h0M1529.2 1024.9h0M996.8 614.7h0M1174 845.6h0M1207.6 574.1h0M561.3 1026.5h0M809.8 927.6h0M1484 990h0M1149.5 310.9h0M1483 938.2h0M1073.9 985.4h0M1441.6 794.8h0M719.7 732.2h0M579.2 989h0M1295.6 518.4h0M786.9 861.8h0M697.1 1126.8h0M1168.2 830.1h0M809.8 883.6h0M1325.6 509.1h0M1583.9 836.4h0M785 844.7h0M1496.8 747.5h0M1322.6 948.9h0M1357.5 978.7h0M523.6 997h0M1097.6 305.5h0M1582.6 617.9h0M659 680.8h0M1546.2 649h0M1499.3 791.4h0M550 1109.1h0M1227.3 335.5h0M1168.3 1094.1h0M1297.9 1144.3h0M1676.5 761.4h0M1230.5 1182.6h0M1609.1 954.4h0M1526.1 904.6h0M1535.2 508.7h0M1149.8 655.1h0M691.4 1004.2h0M680.4 880.3h0M543.2 858.9h0M1160.4 327.6h0M1678 890h0M579.1 1016.9h0M1287 759.6h0M1224.7 636.6h0M1453.6 677.7h0M1042.9 510.2h0M1595.2 782.1h0M1095.7 783.1h0M1301 1155.5h0M866.6 853.7h0M1460 483h0M864 877.9h0M1393.4 1001.1h0M1540.4 712h0M1287.7 785.6h0M1310.8 1103.5h0M813.6 890.6h0M1396.6 865.9h0M1640.6 885.2h0M906 1003.6h0M903.6 964.9h0M1595.5 829.8h0M1233.1 951.4h0M1647.6 772.3h0M1306 1033.3h0M1483 788h0M1082.9 1049.3h0M1594.7 912.9h0M1290.9 1065.6h0M1211.4 736h0M1434.4 811.3h0M1032.5 889.9h0M1095.6 332.6h0M1673.3 841.9h0M1186.1 741.5h0M1596.6 702.3h0M1285 510.1h0M445.5 996.9h0M805.9 965.4h0M1575 931.4h0M969.6 425.5h0M502.4 853.5h0M727.7 1040h0M1388.1 1145.9h0M536.1 904.1h0M891.6 933.5h0M659.1 1065.2h0M1132.4 893.3h0M1169 1134.4h0M1412.7 458h0M1335.1 638.8h0M1505.7 833.8h0M1168 993.4h0M692.6 922.9h0M1492.2 622.8h0M1358.6 1037.9h0M1190.6 268.8h0M979.6 1000.3h0M1097.2 775.5h0M992.2 622.3h0M1070.6 960.5h0M1407.8 696.7h0M1609 890.7h0M1484.9 1028.2h0M1232.4 974.7h0M1315 554.1h0M936.6 1042.2h0M744.4 924h0M529 1094h0M1349.5 676.3h0M1252.3 888.4h0M624.4 1028.6h0M1456.8 541.7h0M692.7 1145.4h0M1131.1 411.4h0M1659.5 786.2h0M567.8 1081h0M1163.4 696.8h0M1607.4 588.7h0M1053.4 916h0M1559.9 521.4h0M1379.6 509.1h0M1471.8 703.8h0M1619 711.5h0M1328.8 869.5h0M1272.1 854.1h0M643.9 974.2h0M562.5 896.2h0M1441.8 990.6h0M1458.1 943.7h0M1235.9 993.3h0M1171.9 290.3h0M1498.7 699.3h0M1644.8 908.7h0M1596 693.1h0M1325.1 1098.9h0M1285.5 438.4h0M722.9 963.1h0M924.6 972.9h0M1216.9 984.3h0M1285 1043.1h0M571.7 871.2h0M1202.6 959.4h0M607 945.6h0M698.9 874.6h0M1127.6 1034.7h0M1326.1 1050.7h0M1242 1067h0M1438.2 954.5h0M1327.5 1000.1h0M1627.6 659.3h0M1228.5 1005.4h0M1606 679.3h0M1303.1 619.9h0M1334.9 846.1h0M1657.2 959.7h0M1466.1 595.5h0M1162.5 363.1h0M599.6 901.4h0M700.5 902h0M1111 247h0M1467 980h0M1489.5 784.3h0M1429.6 770.9h0M1241.1 905.3h0M1431.4 907.2h0M1162.3 460.2h0M910.4 908.5h0M1200.1 712.3h0M695.2 714.7h0M635.6 876.9h0M989.9 871.4h0M1289.1 1052.9h0M1489.8 980.5h0M1093.1 473.4h0M1595.1 926.7h0M1259.2 1113h0M1501.1 749.3h0M1137.7 823.9h0M1018.8 1034.3h0M1272.5 1054.4h0M803.1 974.9h0M1264.8 1110h0M615.9 1018h0M1263.1 454.5h0M1028.8 1069.3h0M1225.8 1172.6h0M965.9 1066.9h0M1106.3 861.9h0M718.4 868.1h0M852.4 1052.4h0M1426.3 596.4h0M1449.5 808h0M1493.3 723.1h0M1516.9 733.7h0M1098.8 311.7h0M1589 597.7h0M1154.3 746.8h0M1687.8 844h0M1104.4 1042h0M1220.8 1068.2h0M1247.6 866.8h0M1504.8 764.3h0M1327.2 895.9h0M1486.8 1070.2h0M1049.9 588.7h0M500 792h0M1619.4 640.2h0M1057.8 583.2h0M640.8 1094.5h0M1246 1074.1h0M493.9 864.7h0M961.5 588.8h0M1630.9 919.1h0M537.6 776.1h0M1574.6 761.3h0M1559.1 762.4h0M575 752h0M1359.4 461.4h0M544.8 1108.7h0M1074.4 793.1h0M1312.3 680.1h0M1476.2 527.5h0M1103.2 1086.8h0M1344.3 1146h0M688.5 1116.8h0M1300.4 1115.7h0M972.9 810.9h0M1058.3 534.6h0M1254.6 487.3h0M1553.4 766.3h0M1441.1 1017.3h0M1290.8 1096.6h0M1281.3 1146.8h0M1257.4 827.2h0M1491.9 683h0M1413.3 626.9h0M1243.1 880.2h0M903.3 1051.5h0M993 524.9h0M1625.3 772.2h0M1421.6 1015.1h0M1565.5 739.4h0M1300.3 509h0M1561.2 665.5h0M813 956.6h0M1500.1 920.3h0M1153.7 332.9h0M1339.9 1003.4h0M1225.9 392.4h0M727.1 982.4h0M1507.8 614.7h0M1471.7 629.7h0M900 945.1h0M829.5 1045.4h0M1346 899.4h0M1416.6 567.5h0M546.7 804.3h0M1334.8 1140.1h0M1056.1 540.6h0M1081.1 258h0M937.2 878.6h0M1471.6 928.8h0M1149 260.6h0M1380.5 1124.9h0M675.4 718.1h0M1517.8 970.9h0M592.3 761.7h0M1672 922h0M1404.4 642.9h0M1266.7 1072.4h0M1388 923h0M1522.5 963.7h0M1167.3 1003.2h0M1318.4 523.3h0M1312.8 602.1h0M1340.2 836.6h0M1467.9 568h0M649.2 865.8h0M1326.4 793.9h0M1238.5 698.7h0M1063.4 410.7h0M1296.9 359.4h0M1195.8 997.2h0M1449 597.3h0M1389.8 644.6h0M1022.9 1059h0M665.2 711.9h0M1244.4 1178.2h0M838.7 897.7h0M1445.2 697.2h0M999.9 1039.5h0M931.7 853.4h0M1412.3 742.5h0M1072.7 829.9h0M711.6 900h0M1466.4 949h0M1576.7 593.8h0M598.6 919.8h0M1036.5 643.2h0M1403.6 598.4h0M1330.5 449.1h0M1267 325h0M947.5 981.8h0M1369.7 791.1h0M1187.3 961.7h0M1437.2 1027.7h0M1278.2 1027.9h0M1647.2 716.2h0M1496.4 525.6h0M1431.7 566h0M1249 382.3h0M1640.9 783.2h0M1395.7 833.4h0M1536.7 965.2h0M1328.4 482.2h0M1474.1 1046.7h0M1085.3 882.1h0M492 1065h0M1338.2 1124.9h0M1414.4 719.2h0M1450.3 520.8h0M1207 749.2h0M1053.5 705h0M1284.1 934.1h0M989.9 543h0M1338.7 1069.4h0M1446.7 956.1h0M1605.4 865.2h0M1423.8 876.2h0M1518 628.2h0M1424.8 691.7h0M1389.8 581.2h0M1432.3 674.1h0M693.7 906.1h0M1167.4 875.8h0M1550.1 689.7h0M1245.2 1104.9h0M1460.5 666h0M1026 789.3h0M1325.8 886.5h0M1264.2 1162.2h0M1510.8 728.5h0M1263.9 444.1h0M1332 866.4h0M910.4 562.4h0M1283.3 531.1h0M1343 878.7h0M1202.2 834.1h0M1462 744.9h0M1446.3 853.3h0M1317.4 414.4h0M1455.9 707.1h0M961.1 552.4h0M1406.7 1106h0M1244.2 908.5h0M1477.1 838.3h0M1117.9 379h0M1198.7 954.3h0M1592.4 932.8h0M1176.3 338.1h0M1217.4 1033.5h0M1085.1 307.9h0M1375.7 852.1h0M707.7 1162.1h0M1472.3 601.3h0M943.8 481.9h0M1404.9 935.1h0M1044.3 569.3h0M669.5 906.4h0M964.8 710.3h0M1065.9 970h0M1443.7 999.1h0M1047.9 1083.6h0M1476.6 865.1h0M795.8 848.9h0M1358.3 868h0M1316 1126h0M1504.9 922.2h0M1375 1045.9h0M1551.6 593.5h0M1471.7 851.3h0M1401.9 766.1h0M1400.9 1134.9h0M1621.8 872.8h0M1105.2 815.3h0M1103.4 266h0M962.3 513.1h0M875.1 1055.9h0M1198.5 1074.9h0M446.3 970.2h0M664.2 908.9h0M1199.4 447.6h0M1219.8 312.4h0M1386.4 1046.7h0M1039.2 956.8h0M1368.5 1043.3h0M507.5 875.2h0M1497.3 721h0M1413.6 1047.3h0M1080.5 292.9h0M1267.9 924.9h0M1288.7 869.7h0M695.2 846.2h0M1253.9 1087.6h0M1252.7 779h0M1444.2 968.9h0M810.7 771.4h0M1234.9 498.8h0M1289.5 1000h0M596.1 937.9h0M1637.7 751.6h0M480.5 849.3h0M1575.7 990.6h0M1162.9 1138.6h0M1361.4 1056.8h0M1119.3 296.5h0M458 897h0M623.2 908.7h0M1257 453.8h0M550.1 1004h0M965.1 501.4h0M1114 673.1h0M1301.4 826.5h0M1378.9 524.1h0M1190.3 1090.6h0M1462.9 1074.3h0M1469.6 644.9h0M1567.4 518.2h0M1201.8 1121h0M1535 804.3h0M1324.9 982.5h0M1375.6 557.4h0M1363.9 1012h0M1207 289.7h0M1460.1 735.4h0M1071.8 303.5h0M924.2 928.6h0M1497.7 944.5h0M1253 327h0M1273.2 373.8h0M1356.3 419.5h0M1412.7 1028.5h0M1412.2 560.5h0M1342.6 641.7h0M1584.2 601h0M576.3 822.8h0M1561.6 1001.7h0M1253 802.2h0M1316.2 819.5h0M551.5 814h0M838.7 945.1h0M469.2 870h0M1548.5 752.9h0M1616.6 747.5h0M1470.1 1050.8h0M1469.2 865.4h0M1226.9 961.9h0M1531.6 841.1h0M1367.6 1052.4h0M1224.9 1128.9h0M1289.4 995.8h0M1221.3 941.4h0M1357 385h0M1326.8 961.8h0M1295.2 860.4h0M1208 916.8h0M548.7 1100.1h0M1384.1 626.3h0M797.9 1013.9h0M1383.1 945.9h0M1229.6 671.6h0M713.6 921.7h0M1405.8 703.6h0M1111 730.2h0M1391.2 1023h0M1413.1 476.5h0M1350.2 743.4h0M1634.8 775.7h0M1536.4 705h0M1395.8 469.9h0M1110.4 748.4h0M1315.5 625h0M556.7 848.5h0M1475.1 578.7h0M1481.6 592.4h0M1547.4 635h0M1448.7 615.1h0M1517.6 632.8h0M1471.2 470.3h0M1270.4 601.3h0M1126.3 790.5h0M1235.7 1183.9h0M1563.9 949.3h0M1359.4 905.7h0M564.9 784.7h0M1283.5 1094.7h0M1197 877.4h0M1399.2 558.1h0M785.2 946.9h0M1675.8 847h0M1394.1 954.9h0M989.9 511.3h0M939.1 574.5h0M900.1 853.6h0M1225 1187h0M689.5 954.7h0M1249.2 1173.4h0M964.8 644.4h0M1382.3 771.3h0M914.8 940.9h0M1113.3 304.3h0M1322.4 682.5h0M1469.2 869.8h0M1356.7 590.2h0M1229.9 352.7h0M903 1062h0M1339.1 841.9h0M1220.2 1097h0M666.3 843.3h0M1423.9 762.1h0M1477.1 821h0M656.6 740.6h0M493 848h0M1506 685.2h0M1440.9 584.7h0M1472.2 889.1h0M1563 802.8h0M611.2 899.5h0M1112.2 1020h0M1203.6 894.4h0M1569.2 542.9h0M1444.2 913.2h0M1333.9 782.5h0M876.4 970h0M838.5 968.8h0M1625.4 680.8h0M1021.8 884.7h0M1266.4 415.6h0M880.2 598.3h0M924.1 1051.4h0M1198.5 775.1h0M864.4 857.7h0M1113 785.4h0M1599.3 832.5h0M632 903h0M1038 932.4h0M1309.2 953.5h0M519.3 1018.6h0M1624.6 940h0M1548.5 922.2h0M1113.5 837.2h0M547.1 976.3h0M627.4 960.7h0M1619.5 993.8h0M1289.2 498h0M1470.7 964.8h0M828.3 827.1h0M1631.2 847h0M661.3 937.1h0M1277.6 1124.9h0M668.6 868.7h0M671.2 834.6h0M1274.1 970.3h0M1344.4 930.1h0M1380.6 489.6h0M1012.1 786.1h0M1263 1182h0M1450.3 643.2h0M1126.6 292.4h0M1594.2 619.5h0M1565 731.5h0M1457.5 650.5h0M862.4 853.4h0M1522.6 908.8h0M1245.4 1027h0M1397.5 552.2h0M834.2 935.7h0M1664.7 791.6h0M1163.4 1075.7h0M1470.8 1057.1h0M972.7 653.3h0M1248.5 801.4h0M673 890.4h0M883.7 906.5h0M832.6 1042.3h0M1027.6 744.8h0M1330.3 972h0M1362.8 621.9h0M868.3 1013.1h0M1297.8 970.2h0M1335.6 1052.5h0M1322.1 902.7h0M1293.5 1075.3h0M1522.9 672.2h0M1381.9 1082h0M1078.8 915.5h0M591.8 975.2h0M1344.1 787.4h0M977.6 975.4h0M1152.5 907.2h0M1596.7 990.8h0M1140.2 815.6h0M590.2 909h0M1234.4 1107h0M1078.1 283.9h0M1134.6 424.6h0M1345.7 963.6h0M1436.9 824.7h0M1600.1 688.3h0M1618 1012h0M520.6 808.9h0M1402.5 800.3h0M1100 496.4h0M1193.6 1025.9h0M1282.6 471.6h0M1484.2 860.9h0M647.9 714.3h0M569.4 1061.7h0M1050.8 608.7h0M805.3 837.3h0M1095.3 1039.1h0M761.3 1011.2h0M1219.9 853.4h0M1586.3 879.8h0M1403.8 672.8h0M1242.4 318h0M1142 984.9h0M1320.6 1099.3h0M1559.2 1009.8h0M1261.7 1176.8h0M1052.3 336h0M1193.1 1038.8h0M931.8 791.4h0M949 763.5h0M1435.3 1122.8h0M1115.1 640.6h0M1650.3 985.7h0M1285 1183h0M1380.2 650.8h0M1341.6 529.2h0M682.4 971h0M1322.7 1059.3h0M1178.6 1017h0M723.5 1038.7h0M1462.8 866.2h0M1539.7 628.2h0M1630 932.4h0M1521.6 551.3h0M627.7 1070.6h0M1481.3 975.7h0M979.4 494.8h0M1341.3 765h0M1277.3 804.8h0M1534.2 822.9h0M1601.5 750.9h0M1368.6 948.4h0M1678 903h0M1287.7 1027.5h0M1038.1 1000.3h0M1529.3 788.3h0M1220.4 1122.3h0M1007.9 593.9h0M1180.3 597.3h0M1192.1 804.8h0M707.5 1059.8h0M1518.1 688.5h0M1287.8 490.8h0M1246.8 953.3h0M1552.6 781.4h0M1381.1 631.2h0M1452.3 968.9h0M1387.2 853.5h0M1612.8 756.6h0M1175 1051.6h0M1245.2 449.4h0M1444.6 739.9h0M1535.9 592.6h0M1329.9 861.3h0M920.5 525.3h0M1201.3 928.3h0M1030.3 369.4h0M1386.4 800.4h0M1541 521.7h0M1082 875.9h0M1424.7 859.5h0M1270.2 1046.8h0M1342.4 1024.4h0M1577.5 690.8h0M1296.4 768.6h0M1469.1 793.8h0M1464.8 922.8h0M1450 633.1h0M1452.9 463.5h0M1115.5 991.6h0M1562 784h0M865.3 908.8h0M1464 928.1h0M1188.3 670.6h0M1289.5 1162.2h0M1192.7 1063.2h0M1375.2 1122.2h0M979.5 859.5h0M1548.8 659h0M1425 1124.4h0M1028.8 616.6h0M1306.7 983.7h0M684.9 701.9h0M1166.2 1008.3h0M1139.2 259.5h0M1433.7 710.5h0M1464 701.1h0M1072.3 936.2h0M1349.8 470.7h0M1390.1 549.5h0M1257.4 1144.8h0M625.8 914.7h0M672.8 852.2h0M1204 947.8h0M1508.6 937.9h0M1230.2 1066h0M1264.7 792h0M1340.6 477.6h0M1564.5 542h0M919 919.2h0M1452.8 717.8h0M1367.3 699.3h0M1171.2 864.2h0M545.5 868.7h0M570.5 916.3h0M1334.3 425h0M1362.8 1063h0M1292.6 355.3h0M838.9 558.7h0M1185.3 949.2h0M1202.6 342h0M1407.2 1002.4h0M1261.9 781.9h0M1377.2 796.4h0M1185.9 1031.9h0M1257.5 478.2h0M1257.6 859.5h0M1293.1 644.4h0M755.3 1077h0M718.6 1081.1h0M1235.8 844h0M1614.7 702.6h0M1386.3 1009.9h0M1268.2 812.8h0M1190.4 725.2h0M763.8 974.9h0M1419 732.6h0M784.2 874.8h0M1163.5 1103.5h0M1288.3 957.7h0M1305.6 808.3h0M1209.4 951h0M1270.7 848.8h0M1045.9 842.5h0M1308 928.3h0M1415.9 925.7h0M1341 1094.4h0M1121.8 877.5h0M1589.5 953.9h0M1112.5 754.2h0M558.3 760.3h0M1076.4 734.9h0M1306.2 765.7h0M1327.2 672.9h0M762.5 935.9h0M550.4 907.4h0M1398.2 1010.8h0M1252.6 1165.1h0M1273.4 924.6h0M602.6 1031.7h0M1181.9 764.7h0M1157.1 917.2h0M573.6 835.3h0M818.7 973h0M967.6 946.6h0M1453.2 940.5h0M854.2 941.4h0M514.4 800h0M1326.5 520.3h0M580 1118h0M1402.4 1045.7h0M1251.6 958.1h0M1300.9 363.6h0M1083 891.2h0M837.8 1052.2h0M1318.1 970.5h0M1222.3 306.1h0M912.5 962.5h0M1066.8 433.2h0M1259.9 755.9h0M1400 569.7h0M1193.5 1074.5h0M949.7 461.8h0M1063.4 948.3h0M1473 709.5h0M1213.7 887.3h0M1502.1 839.4h0M1109.2 1113.5h0M1555.6 836.7h0M1216.4 1093h0M1433.8 885.6h0M1181 593h0M555.6 1043.7h0M1485.8 668.5h0M1585 577h0M1124.8 1017.3h0M1593.2 787h0M1314.8 620.9h0M1342.6 922.1h0M651.7 903.8h0M1387.2 655.1h0M1314.6 588.4h0M532.8 824.1h0M1220.9 972.4h0M1393.3 697.1h0M1085.3 497.2h0M1467.3 462.4h0M894.6 705.1h0M650.8 995.7h0M1267.2 753.3h0M1518.1 759.8h0M876.3 755.8h0M876.5 788.3h0M644.9 924h0M1630 658h0M1400.2 643.8h0M1562.7 861.1h0M1097.2 433.9h0M1297.3 567.2h0M1437.9 911.1h0M1474.2 1091h0M1183.9 673.4h0M1273.1 898.8h0M1261.8 873.1h0M847.8 753.5h0M1292 379.8h0M1274.2 866.6h0M1125.5 277.1h0M608.1 825h0M715.3 1158.2h0M630.3 1019.7h0M1439.2 1087.6h0M990.4 981.7h0M1339.2 621.1h0M1376.9 883.1h0M1463.7 1004.3h0M451.8 957.4h0M1495.5 564h0M1478.2 483.5h0M965.8 633h0M899.2 813.9h0M959.2 875.4h0M607.5 891.8h0M1294.6 898.9h0M1181.4 973.3h0M505.3 809.5h0M1455.4 626.2h0M1344.5 587.7h0M953.2 1060.1h0M1613 615h0M1484.5 687h0M1205.5 588.5h0M863.7 608.6h0M1372.9 897.5h0M1308.9 1037.6h0M1611.5 980.5h0M1139.7 848.7h0M1389 1069h0M1047.8 958.4h0M1246.5 936.5h0M1421.5 468.6h0M680.1 1005.3h0M1406.1 1021.4h0M1435.8 924.6h0M1140 247h0M1258.2 843.5h0M1316.7 509.8h0M1071.2 717.5h0M1331.2 773h0M1505.6 488.1h0M1210.2 1064.9h0M1134 679.6h0M1044.1 980.8h0M561.6 975.2h0M1106.7 252.1h0M1664.7 859.6h0M1346.5 862h0M929 787.3h0M417 973h0M1393.4 828.9h0M1268.8 885.4h0M1443 945.3h0M1518.8 910.5h0M1647 997h0M1320.1 490.2h0M1449.2 1049.7h0M1273.7 966.3h0M1283.7 918.9h0M1142.9 710.3h0M1541.4 796.4h0M1001 662.9h0M1337.4 1130.1h0M898.5 657.4h0M1378.4 1049.1h0M1651.3 890.3h0M511.1 871.6h0M1114.4 803.1h0M1411.2 440.5h0M1574.6 811.5h0M1307.8 912.5h0M438 1003h0M1404.7 742.7h0M1443.8 800.2h0M1222.9 1160.2h0M1232.7 933.9h0M753 1056.2h0M1533.5 830.5h0M1177 1158h0M1287.6 426.1h0M1239.8 691h0M1465.4 636.3h0M1665 745h0M1638.9 938.3h0M1273.2 893.3h0M1475.8 869.8h0M582.7 931.6h0M1096.2 805h0M1215 1131.8h0M1211.8 829.7h0M1345.6 1134.2h0M1606.4 789.3h0M882.8 933.9h0M1652.4 911.3h0M1122 456.9h0M1156.1 782.9h0M842.6 941.7h0M1042.6 601.8h0M1345.6 522.1h0M707 650h0M1498.9 975.1h0M1404.8 1007.5h0M1500.1 935h0M1298.7 744.3h0M1492.9 851.2h0M1239 883.8h0M1084.2 774.4h0M1409 752.8h0M1513.2 972.3h0M1216.4 894.6h0M1360.8 927.3h0M1492.7 917.7h0M1350.5 707.5h0M1140 613.7h0M1542.8 747.8h0M1576.4 558.5h0M745.2 892h0M1075.3 328.8h0M697.1 977.3h0M1276.9 481.1h0M1491 542.8h0M1036.8 852.9h0M1567.1 1019.7h0M1172.9 793.1h0M1210.7 277.3h0M1599.4 928.3h0M1359.6 1117.9h0M1099.2 911.3h0M1590.7 992.6h0M1453.3 853.4h0M1343.6 494.7h0M1402.5 448.8h0M935.8 975.6h0M1422.7 882.7h0M1027.8 449.5h0M1206.6 337.8h0M1183.7 335.6h0M1387.1 1075.8h0M479.6 996.5h0M1361.1 617h0M1433.5 1116.4h0M1190.4 1022.6h0M1464.5 671h0M525.8 785.5h0M1323.8 445.3h0M1315 837h0M1288.6 965.8h0M1370.5 974.4h0M1420 1027.5h0M1401.9 520.6h0M1579.7 802.9h0M1458 1088h0M1688 800h0M1244.6 399.1h0M1448.6 555.6h0M1254.5 1037.9h0M1223.1 902.4h0M1149.1 902.3h0M1369 755h0M580.5 1067.1h0M1620.3 837.9h0M1368.4 655.9h0M1481.7 575h0M1537.4 513.2h0M1106 289.4h0M1588.9 554.2h0M1433.8 667.4h0M1029.1 504.1h0M1508 478h0M1017.5 428.9h0M1343.3 619.3h0M584.1 778.6h0M1283.9 863h0M1282.6 1106.9h0M1144.5 787.1h0M1466.5 720.8h0M1273.1 818.3h0M1260.8 968.4h0M1591.7 877.9h0M1131 474.7h0M1385.3 713.2h0M1289 751h0M684 1027.5h0M1123.9 521.7h0M1328.5 1157h0M1478.7 471.5h0M1517.8 678.4h0M661.9 882h0M715 929.8h0M1126 298.5h0M769.6 1050.4h0M506.4 866.1h0M1366.6 967.6h0M1304.8 1138.6h0M1362.3 658.9h0M898.9 1015.2h0M1544.7 910.9h0M1485.5 730h0M716.3 1054.3h0M1496 1024.9h0M1258.6 1027.5h0M943 1062h0M1253.6 1093.7h0M1135.1 560.2h0M1279.6 935.5h0M848.2 1006.3h0M1233.5 636.2h0M870.4 982.2h0M912.5 967.9h0M1512.8 594.4h0M1587 945.2h0M1313.9 559.8h0M1503.2 572.7h0M979.3 635.2h0M1255.4 503.4h0M1529.7 941.8h0M1312 1028h0M1497.2 856.9h0M1644.7 856h0M1372.6 1040.6h0M1424.3 959.5h0M1635.1 912.5h0M1325.1 667.9h0M832.9 810.9h0M736.6 1070.6h0M1427.4 529.3h0M1553 621.1h0M919.3 678.3h0M976 768.4h0M1396.1 529.4h0M1596.4 971.8h0M1184.8 309.2h0M769.2 913.6h0M1628.1 703.3h0M1494.3 557.9h0M1369.9 957.1h0M1510.1 1027.8h0M1030.4 965.3h0M827 602h0M1007.8 697.7h0M602.2 890h0M1361.7 757.5h0M1334.6 520.3h0M850.6 897h0M580.1 752.9h0M1270.4 1068.2h0M633.7 850.5h0M1155.6 983.9h0M1321.4 1120.7h0M520.8 836.1h0M803.5 895.4h0M1183.1 758.3h0M1299.6 1103.8h0M681.1 1036.1h0M1006.2 748.5h0M1458.7 741.8h0M1257.2 952h0M1042.9 788.1h0M1598.8 598.1h0M1516.1 621.9h0M1095.5 1001.3h0M1574.4 815.5h0M595.9 927.5h0M1491.8 467.3h0M1431.6 663.3h0M1337.7 827.9h0M854.6 877.8h0M1245.6 785.7h0M707.8 1013.3h0M1488.4 953.5h0M1392.7 1072h0M1352.6 1139.7h0M802.3 932.7h0M649.1 836.9h0M1158.4 345h0M596.4 875h0M1503.9 818.3h0M1294.7 1161.5h0M1389.8 553.6h0M1459.5 806.1h0M1430.5 1046.6h0M650.6 955h0M1302.8 502.2h0M854.8 859.4h0M1135.5 1031.9h0M903.4 1039.8h0M1493.1 658.9h0M957.9 646.9h0M1071.8 265.5h0M1191.3 545.7h0M1116.8 585.9h0M1401.3 988.9h0M1332.8 888.7h0M1451.4 799.2h0M1282.4 369.4h0M1201.9 499.2h0M1323.9 995.8h0M701.7 1151.8h0M1266.4 1002h0M1634.6 926.4h0M1243.3 586.2h0M1226.4 975h0M1383.9 895.7h0M633.4 1056.4h0M635.4 815.7h0M1333.9 1134.3h0M555.7 886.3h0M648.7 966.2h0M742.9 935h0M803 607h0M966.7 960.6h0M1181.9 981.5h0M1596.7 579.9h0M1356.9 475.8h0M1395.1 996.8h0M1224.4 839.9h0M1483.2 1083.2h0M1406.4 954.2h0M675.8 1074.3h0M1388.4 985h0M458 920h0M1369.3 596h0M1393.3 677.7h0M1147.9 877.6h0M1137.9 1038.3h0M1123.4 905.7h0M1483.3 812.5h0M1269.1 399.4h0M516.9 875.7h0M647 693h0M1243.4 844.2h0M1118.8 1100.7h0M1241.7 1167.3h0M531.6 1097.4h0M1029 533.1h0M1431.2 488.5h0M585.5 1102.6h0M1291.5 460.9h0M1179.5 1140h0M722.7 1051.8h0M777.4 1002.1h0M1004.8 600.1h0M1635.5 723.9h0M1535.4 572.5h0M633.4 841.3h0M1295 613.7h0M1390.6 488.1h0M1498 1060h0M1420.2 1001.4h0M728 1092h0M705.9 661h0M1600.6 616.3h0M1411.8 834h0M1468.9 1036.2h0M1374.6 787.7h0M1504.8 641.7h0M976 451.4h0M1233.1 1006.4h0M1258.7 946h0M1320.4 518h0M1058 290h0M1433.7 642.7h0M507.3 941h0M1318.6 987.5h0M710.5 831.4h0M1138.7 1103.5h0M1508.9 983.9h0M877.6 560.6h0M1331.6 536.8h0M521 1079.4h0M1268.3 897.2h0M1373.2 836.8h0M1429.7 935.3h0M1398.6 1124.2h0M1141 252.8h0M1138.2 990.5h0M726.4 970.3h0M1373 604.8h0M950.8 960.9h0M1106.7 849h0M1388.1 1113.8h0M1625.6 1010h0M621.7 991.3h0M1301.1 802.7h0M635 964h0M1665 785.3h0M1078.4 938.6h0M1310.4 1116.7h0M635.2 775.1h0M1671.1 964.6h0M1239.7 443.7h0M1379.6 444.5h0M1378.9 439.1h0M482.6 840.9h0M1498 1061.5h0M646.3 801.9h0M1243.6 487.6h0M732.5 1000.7h0M1303.3 822.1h0M1239.7 901.2h0M1243.1 347.1h0M1222.5 847.1h0M1387.6 776.4h0M1069.9 419.5h0M1100.9 781.9h0M1333.8 1063.1h0M966 1036.7h0M1081.4 969.6h0M491.9 935.7h0M1327.4 609.9h0M1034.5 605.2h0M1538.3 838.9h0M1500.1 579.2h0M1352 956.3h0M1318.3 557.6h0M809 839.2h0M1590 859.3h0M838.1 1056.6h0M1349.5 932.6h0M1292.6 529.3h0M1380 567.8h0M1495.9 490.6h0M1395.3 579h0M1200.6 1166.2h0M898 603.7h0M1071.2 341.6h0M1196.1 984.8h0M1324.2 424.1h0M1381.7 462.3h0M1239 1044h0M827 906.4h0M523.9 839h0M971.5 874.2h0M1074.6 1018h0M1479.3 652.6h0M1388 806h0M1213 1172.2h0M1450.9 961.1h0M1038.8 623.9h0M725.4 885h0M1319.1 823.7h0M952.3 695h0M1187.5 879.5h0M928.4 839.1h0M1359.1 921.2h0M630.6 949.8h0M1363.6 485.8h0M1174 879.5h0M1053 792.4h0M1365.3 605.4h0M1371.6 541.7h0M931.9 498.3h0M1261.8 981.2h0M1159.7 1125.1h0M1340.5 1032.8h0M1237.8 660.7h0M1603.7 893.7h0M1446.7 479.2h0M1273.7 979.5h0M1437.9 1010.7h0M1463.5 574.7h0M1465.8 931.8h0M1402.3 1093.5h0M1192.7 1167.2h0M1559.7 833.9h0M1498.4 991.2h0M1520 813.7h0M1245.7 1009.7h0M745 1197h0M1112 758.7h0M510 933.6h0M1428.8 708.2h0M855.1 568.4h0M1358.5 649.6h0M1375.1 906.3h0M604.3 965.9h0M1131.1 751h0M1359.7 550.3h0M1299.8 910.1h0M1634.4 828.1h0M1415.7 664.2h0M473.8 858.6h0M960.5 795.8h0M1033.7 905.4h0M1067.6 951.2h0M1045.9 1054.9h0M1471.8 621h0M1356.8 499.2h0M1123 1078.1h0M1131.8 643.4h0M1622.1 783.4h0M1479.4 501.5h0M1653 725h0M1016.1 621.9h0M1332.8 687h0M1375.2 1089.7h0M992.2 894.9h0M1645.8 902.8h0M723.8 1032.7h0M1068.4 1078.8h0M1253.9 881.9h0M1304.2 952.1h0M1295.3 594.8h0M760.2 868.6h0M809.8 615.3h0M643.1 871.4h0M1136.2 789.8h0M1147.3 802h0M1263.2 382.5h0M1378.9 752h0M1191.2 899.8h0M1271.6 1173.6h0M1617.1 796h0M1313.6 566.3h0M1299.5 549.5h0M1262.8 899.7h0M1524 584.7h0M1458.7 899.1h0M1334.6 1002h0M1692 773h0M716.3 796.5h0M1455.9 552.9h0M1224.5 1103.6h0M1141.9 677.9h0M1655.7 849h0M1382.3 1012.3h0M829.4 992.6h0M970 699.5h0M1195.1 570h0M1177.6 853.7h0M1554.9 727.9h0M915.3 583.8h0M788.9 832h0M899.8 1034.4h0M619.8 953.1h0M1236.4 1112.3h0M1032.5 513.1h0M470.5 956.9h0M1470.4 512.5h0" stroke="#000004"/>
<path d="M1216.6 867.7h0M1154.7 532.7h0M1219.5 662.4h0M915.3 482.5h0M1246.4 761.8h0M776.4 837.6h0M1563.5 672.6h0M1690 827h0M1099.4 557.4h0M1112.6 722h0M1430.4 625.2h0M1390.7 1136.9h0M1019.7 743.7h0M1254.6 691.8h0M1233.2 401h0M1295 500.6h0M1240.5 1156.9h0M744.5 860.8h0M1252 899.1h0M1002 537.2h0M1216.3 625.1h0M1276.4 1090.6h0M1459.7 576.5h0M1346.4 703.4h0M1166.3 633.2h0M740.6 891.6h0M1264.5 1143.5h0M1308.4 445.5h0M1427 946h0M725.7 932.1h0M1209.8 717.6h0M1483.3 647.4h0M1355.7 457.8h0M902 610.1h0M1541.2 562.4h0M1496.1 498.3h0M726.9 852.7h0M828.8 873.2h0M1043.8 908.4h0M723 1128h0M1454.3 1013.7h0M1452.8 508.4h0M1313.8 795.5h0M1067.3 326.1h0M780.3 723.2h0M1361.9 557h0M1522.2 653.9h0M1191.7 992.8h0M1369.4 1110.1h0M1201.2 688.8h0M1408.7 673.6h0M1193.7 257.9h0M1172.6 263.3h0M1378.7 501.8h0M1390 611.7h0M853.3 633h0M1502.5 597.4h0M1309.1 737.7h0M1162.1 335.1h0M888.1 696h0M1376.6 1142h0M886.8 524.3h0M711.7 1184.6h0M1241.8 1183.1h0M1075.2 317h0M1466.2 754.2h0M964 628.9h0M1162.5 1000.5h0M1024.8 851.6h0M1128.1 700.4h0M1370.7 772.7h0M1627.6 813.9h0M1270.8 905.3h0M1494.1 533.5h0M837.6 737.6h0M706.4 1096.2h0M1618.3 886.1h0M621.4 733h0M1019.5 502.8h0M1188.5 696h0M1472.7 461.4h0M595.3 1114.3h0M1182.2 281.1h0M471.4 952.2h0M1574.1 589.8h0M1174.4 280.5h0M1487.2 916.3h0M1007.2 651.2h0M1021.9 839.6h0M1626 879h0M693.5 951h0M1359.5 1050.4h0M1535.7 975.3h0M1255.2 912.8h0M705.4 1169.4h0M1315.7 977.7h0M794.3 930.3h0M1516 647.6h0M1280.7 464.5h0M1461.6 545.4h0M990 653.8h0M1258.7 1023.1h0M825 555h0M879.2 783.1h0M1250 1005.4h0M1072.4 517.5h0M1290.6 947.5h0M941 505.3h0M1557.5 787.3h0M1150.8 561h0M1229.5 762.1h0M930.2 635h0M1454.5 548.1h0M1278.4 990h0M1337.8 1011.4h0M1102.3 711.7h0M1361 663.9h0M1264.2 1052.2h0M1519.2 789.2h0M1312.3 517.7h0M972.3 714.7h0M1202.3 599.8h0M1461.8 598.2h0M1588.3 631.4h0M1326.9 429.1h0M631.9 866.5h0M1185 1003.7h0M714.7 1207.3h0M923.9 484.4h0M960.1 542.2h0M1343.9 409.4h0M1106.3 629.1h0M1655.2 934.1h0M1326.3 728.8h0M1664.6 918.9h0M1180.8 669.6h0M1182.7 695.7h0M674.7 929h0M932 878.9h0M1444 973.1h0M1070.8 582.1h0M1093 368.9h0M1191.7 1017.1h0M1341.5 973.9h0M716.1 712.7h0M890.3 623.1h0M1466.1 477.5h0M1079.4 697.4h0M1456.3 820.7h0M1102.7 659h0M660 800h0M1253.1 712h0M1489.4 516.8h0M1184.4 1124.2h0M892.2 672.9h0M1352 990.1h0M938.4 871.4h0M469.2 943.9h0M709.5 928.3h0M1362 1086.6h0M1554.8 565.7h0M477.8 1043.7h0M1231 618.9h0M1001.4 794.6h0M657.6 1042.4h0M1297.5 485.5h0M1445.8 638.6h0M557.7 987.4h0M929.6 795.1h0M1579.4 574.2h0M1438 518.1h0M1427.2 871.6h0M989.2 529h0M887.8 567h0M1056.6 719.4h0M1182.8 714h0M764.4 773.2h0M1543.3 707.2h0M1417.4 515.8h0M520.9 923.4h0M1186.2 499.8h0M1257.4 922.6h0M718.1 964h0M969.2 581.7h0M473.9 959.3h0M1316 1001.9h0M1150.4 872.1h0M1519.9 623.9h0M1431.9 530.2h0M904.8 632.3h0M1442.2 701.9h0M1328.4 1149.7h0M1436.4 502h0M786.9 893.7h0M473.6 938.9h0M737.5 1202.3h0M1239.3 857.4h0M1511.5 577.8h0M1130.8 654.5h0M1074.9 439.4h0M1171.3 617.8h0M1455.3 558.7h0M976 529.5h0M1493.9 583.3h0M1312 527.4h0M701.4 930h0M977.7 603.5h0M1483.9 705.6h0M594.5 895.6h0M1473.5 654.5h0M701.4 888.2h0M1159.5 1136.3h0M1312 723h0M1196.6 305.9h0M1120.2 590.6h0M1355.8 963.5h0M468.7 969h0M951.8 754.3h0M716.4 651.2h0M575 907.2h0M1537 606.8h0M745.8 1187.9h0M626.5 1056.1h0M1463 621.2h0M1608.5 875.7h0M1129.4 787.9h0M1127.3 736.6h0M1158 659h0M1398.7 890.3h0M725.9 1135.2h0M1119.7 430.4h0M1244.2 352.9h0M1144.4 597.5h0M1106.7 595.8h0M1442.1 543.9h0M1492.7 717.1h0M1376.1 719.4h0M892.7 570.6h0M1305.5 971.8h0M1148.6 884.1h0M1434.8 983h0M723.5 799.4h0M1227.4 697.8h0M682.6 1043.9h0M1320.2 925.9h0M1149.2 322.6h0M1605.3 845.6h0M1197.6 327.2h0M1174.1 781.3h0M1295.4 892.6h0M989.1 554.5h0M1131.5 568h0M1429.9 1015.3h0M1559.4 755.3h0M1005.4 758.1h0M783 1070h0M1374.5 778.2h0M1144.5 509.8h0M1331.1 826.1h0M957 591.5h0M1322.1 702.7h0M1147.5 573.3h0M645.9 736.1h0M625.1 751.8h0M1610.1 871.1h0M1178.1 638h0M703.9 847.3h0M1051.1 762.6h0M966.7 611.3h0M949.6 640.3h0M1410.6 876.9h0M1006.2 608.2h0M736.1 808.4h0M1300.7 783.6h0M1390.6 1032.6h0M1393.8 719.6h0" stroke="#51127c"/>
<path d="M1477.7 700h0M1510.9 606.1h0M499.5 986h0M1240 1185h0M1197.1 580.8h0M1413.6 794.5h0M1177.6 873h0M701.4 1164.4h0M810 971.3h0M1301.7 714.1h0M1547.9 699.1h0M574.4 1053.9h0M1534.4 559.1h0M1148.6 1022.9h0M504.5 1050h0M502.9 946.8h0M1643 705h0M1551.8 534.9h0M1361.7 998.4h0M654.2 987.8h0M583.2 892.2h0M1081.7 1004h0M1444.9 776.5h0M485.7 910.7h0M1557.5 570.3h0M824.4 702.2h0M608.6 813.2h0M1582.8 629.1h0M1532.9 541.7h0M1292.9 1091.7h0M900.4 690.1h0M610.7 972.3h0M1344.5 780.4h0M1044.3 925.6h0M1013.6 587.9h0M781.8 1026.6h0M1538 535h0M528.9 965.9h0M1239.1 919.4h0M1491 635.9h0M1053.9 681.5h0M1477.6 523.6h0M592.9 941.7h0M1608.3 626h0M940.3 948.2h0M1399.7 784.5h0M1388.7 671h0M1011.7 843.1h0M518.1 897.2h0M991.5 461.4h0M1054.1 939.7h0M501.7 1000.6h0M1447.1 1072.3h0M1491.3 505h0M1440.2 610.8h0M1603.4 799.8h0M1550 837.1h0M696.4 736.2h0M1093.6 872.3h0M893.9 882.9h0M1199.1 936.3h0M1120 821.1h0M1454.1 579.6h0M527 1090h0M1202.8 284.5h0M845 1075h0M622.7 959.1h0M1393.7 497.4h0M998.7 910.2h0M1544.6 515.7h0M938 927.8h0M758 899.6h0M1464.4 648.7h0M690 1016.8h0M1151.5 789.8h0M476.7 884.1h0" stroke="#5c167f"/>
<path d="M1482.7 626.3h0M1179 927.8h0M679.5 1071.9h0M478.9 943.4h0M1164.8 980.8h0M1142.3 657.1h0M1062.5 327.1h0M1036.4 714.9h0M1530.2 500.2h0M1105.2 836.2h0M1123.2 615.8h0M1084.2 637.1h0M665.2 1018.3h0M1211.8 786.9h0M509.5 1009.4h0M624 902.9h0M855 884h0M1225 746.8h0M493.9 1064.3h0M865.2 621.3h0M895.3 863.2h0M904.4 1033.5h0M895.1 1003.1h0M722.5 985.3h0M1256.4 577.7h0M526.5 911.1h0M769 894h0M1046.3 620.9h0M1220.4 523.1h0M577.8 1111.8h0M1071.4 966.6h0M888 1068.1h0M1396.6 1148.7h0M726.9 698h0M765 1083h0M1637 1005h0M646 747.5h0M930.8 821.6h0M1323.4 973.8h0M519.4 852h0M1288.8 562.7h0M905.5 836h0M1154.1 877h0M702.2 920.1h0M1060.8 553.7h0M789.7 685.4h0M1209.5 847.6h0M567.3 940.1h0M1124.5 1006.4h0M572.7 923.2h0M691.1 971h0M467 1043h0M480 1031.5h0M1175.1 911.2h0M999.1 948.9h0" stroke="#681c81"/>
<path d="M1093.7 822.7h0M638.1 834.2h0M1242 728.6h0M658.2 879.5h0M1285 622.4h0M1101.9 876.7h0M921.8 596.7h0M1070.9 1013.4h0M514.8 988.9h0M851.6 1024.5h0M1118.6 960.7h0M1197 621.4h0M1218.5 742.6h0M1087 1107h0M885.4 729.7h0M798.8 991h0M1055.2 422.3h0M1159.8 418h0M905.5 556.1h0M722.2 928h0M803.3 1055.5h0M1442 449h0M1017.2 681.4h0M708 1192h0M1086.9 747h0M1097.1 844.8h0M1597 563h0M895.3 986h0M1082.5 978.2h0M518.7 813.5h0M947.2 660.3h0M893 811.1h0M911.7 815.2h0M745.2 1020.8h0M459.5 884.7h0M1436.1 1082.5h0M1202.8 578.4h0M1050 645.2h0M938.2 663.2h0M1122.7 769.6h0M978.9 759.5h0M572.8 932h0M984.3 947.3h0M821.4 621.4h0M1607 580h0M1154.6 899.1h0M663.8 813.7h0M877.4 573.3h0" stroke="#732081"/>
<path d="M705.3 950.1h0M1075.6 1022.8h0M742.3 866.5h0M501 976.6h0M642.7 881.6h0M952.3 441.4h0M1112.5 765.7h0M1177.9 588.7h0M490.7 808.3h0M978.3 990.9h0M1168.9 845h0M1098 887.7h0M856.4 545.5h0M1512 1072h0M949.6 880.8h0M1070.3 623.7h0M1272.7 637.5h0M727.6 964.8h0M635 825.5h0M1027 610.9h0M1035.4 1009.5h0M858.7 810.5h0M536.2 938.2h0M1074.8 550.8h0M1218.3 619.3h0M1577.6 547.2h0M638.3 937.4h0M1275.9 608.9h0M1124.8 765.4h0M1019.1 999.2h0M1198 836h0M962.7 788.4h0M758 1022.1h0M726.2 922.8h0M466.5 926.8h0M558.4 1064.1h0M1254.9 329.8h0M1115.4 667.8h0M535.7 1039h0M1044 866.3h0M617.9 770.4h0M1276.4 559.9h0M1687.8 809.2h0M437.6 1001.1h0M1219.2 640.2h0M656.9 1025.1h0M912.9 619.3h0" stroke="#802582"/>
<path d="M1013.8 567.3h0M657.5 707.2h0M642 1082h0M724.9 744.2h0M1017.5 582.4h0M898 501.8h0M1030 575.9h0M1129.1 711.9h0M1020.2 726.2h0M766.4 733.6h0M605.6 791.2h0M674 987.3h0M658.5 1017h0M1134.7 928h0M1077.2 910.3h0M1157.6 480.3h0M1065.8 1070.9h0M1014.1 914.7h0M604.2 839.4h0M1621.7 955.8h0M584.9 1054.9h0M1156.6 628.2h0M516.3 838.9h0M1478.3 645h0M899.5 729.2h0M1513.8 801.7h0M1022.8 990.1h0M1129.9 663.9h0M1352.4 810.7h0M1173.7 613.7h0M1233.4 666.9h0M1217.1 808.9h0M1647.4 733.2h0M1426 851.8h0M1198.8 608.5h0M1294.5 781.7h0M1477.8 625.1h0M697.8 1017.6h0M1425.1 798.8h0M530.8 901.1h0M775 1070h0" stroke="#8b2981"/>
<path d="M1045 457.2h0M1465.5 777.9h0M941.7 983.4h0M651 791h0M1107.5 885.8h0M998 619h0M870 1078h0M1579.8 865h0M1240.7 715.5h0M794.3 873.2h0M1322.5 606.7h0M1227.7 833.3h0M592.7 1108.4h0M513.2 1019.1h0M1402.5 564.2h0M1062.6 1000.9h0M818.8 768.2h0M905.1 498.5h0M974.6 482.1h0M1163.6 895.4h0M846.2 876.5h0M1238.6 743.7h0M674.4 752.5h0M781.3 1010.5h0M1106.1 415.8h0M559.3 778.5h0M1336 1112h0M1170 515.5h0M1498.6 624.1h0M936.9 647.9h0M1177.3 622.5h0M1105.9 697.9h0M1100 1113h0M1136.8 897.3h0M925.1 817.2h0M1355 967.4h0" stroke="#982d80"/>
<path d="M807.6 1059h0M923.3 795.9h0M968.6 603.5h0M1117.5 882.2h0M843 768.8h0M1077 1107h0M1385.9 642.3h0M1152 834.2h0M1253.4 771h0M1198.8 290.9h0M1146.7 822.3h0M726.2 1160.7h0M1172.1 322h0M958.1 504.1h0M475.2 919.6h0M823 920.9h0M959.1 1044.6h0M1065.8 611.1h0M892.6 532.3h0M756.5 626.8h0M1163.8 548.3h0M623.8 765.6h0M797.7 868.8h0M612.1 876.9h0M518.8 919h0M1293.2 486.8h0M739 802.7h0M729.6 1212.7h0M1200.3 280.4h0M659.1 895.9h0M1156.3 1036.4h0M617.2 1027.1h0M793.5 878.5h0M733.7 899.4h0M1188.3 550.8h0" stroke="#a3307e"/>
<path d="M979.9 719.3h0M855.9 1049h0M728.8 1029.7h0M872.3 957.3h0M548.4 1041.6h0M884.3 1060h0M466.3 876.8h0M1595.3 554.4h0M1391.1 523.8h0M438 996.8h0M667 755.2h0M697.5 747.7h0M536.3 887.8h0M1212 647.2h0M985.4 758h0M922 516.6h0M1121.1 892.8h0M1286.9 898.8h0M527.4 894.4h0M1073.2 633.9h0M1036.8 978.5h0M536.5 913.8h0M490.6 972.3h0M838.4 698.4h0M865.5 745h0M1034.9 540.7h0M1102.6 510.4h0M715.2 954.5h0M851.4 608.3h0M1068.3 842h0M1146.2 457.3h0M1155.5 268.9h0M1102.9 486.1h0M1180 625.5h0" stroke="#b0357b"/>
<path d="M1367 1157h0M1233.6 290.9h0M1107.5 1056.9h0M1151.6 482.9h0M1217.1 681.9h0M1103.5 855.4h0M1140.3 780.8h0M1144 774.4h0M882.5 671.4h0M1468.8 580.3h0M1114.3 732.5h0M638.8 800.3h0M629.5 1004.1h0M633.3 1096.2h0M984.6 902.4h0M992 444.6h0M1140.4 642h0M895.6 732.3h0M658 846.8h0M1178.8 618.7h0M753.3 952.5h0M1156.5 926.1h0M902.6 901.2h0" stroke="#bc3978"/>
<path d="M1153.9 718.8h0M1100.9 553.3h0M800.7 612.1h0M1212 289.6h0M1134.6 288.1h0M972 1072h0M672.2 979h0M1113.2 578h0M1192.3 293.9h0M1103.6 547.2h0" stroke="#c83e73"/>
<path d="M1002.7 776.6h0M674.7 725.5h0M961.5 697.3h0M736.1 678.8h0M518.3 869h0M1119.7 460.2h0M1200 561.7h0M770 767.7h0M914 705.1h0M735.4 650.1h0M1154.8 598.8h0M1163.7 679.7h0M732.6 943.3h0M797.6 723.5h0M611.3 795.7h0M734 1034.1h0M1048 395.7h0M1222.2 702.2h0M504.4 952.7h0M1141.5 714.8h0M954.8 1016.8h0" stroke="#d3436e"/>
<path d="M997.7 637.4h0M1116.3 738.9h0M1153.8 543.4h0M1042 323h0M1147.5 358.8h0M828.9 892.8h0M1103.5 499.5h0M1174.7 565.2h0M605.2 992.5h0M954.4 920.3h0M1182.5 523.8h0M990.3 432.1h0M643.8 867.3h0M1120.2 355.6h0M596.3 783h0" stroke="#df4a68"/>
<path d="M1206.6 809.9h0M1143.3 474.6h0M1092 265.6h0M1134.2 579h0M701.7 1023.5h0M1231 333.5h0M706 823.8h0M611.7 828.5h0M1052 276h0M1151.3 594.9h0M867.2 974.3h0M1142.5 698.5h0" stroke="#e85362"/>
<path d="M1170.7 608.4h0M936.4 768.2h0M985.5 656.3h0M779.6 866.7h0M888 768.3h0M923.4 651h0M737.7 845.2h0M1150.7 549.7h0M939.5 704.9h0M888.9 580.1h0M1021.5 627h0M1104.2 393.5h0" stroke="#f05f5e"/>
<path d="M1066.8 642.4h0M988.2 718.5h0M935.7 535.5h0M1016.4 451.1h0M1107.3 488.4h0M781.5 701.2h0M760.1 742.8h0M760 1205h0M1112.9 527.6h0" stroke="#f56b5c"/>
<path d="M1067.4 786.7h0M601 884.6h0M813 763.4h0M1151.6 667.5h0M535.5 1028.4h0M1200.2 694.8h0M1135 598.1h0M1028.5 606.4h0M611.2 776.8h0M1128 520.1h0M982.3 642.9h0" stroke="#f9795d"/>
<path d="M1149.8 715.2h0M1191.5 515.3h0M766.1 829.5h0" stroke="#fc8961"/>
<path d="M1632 683h0M702.1 1180.7h0" stroke="#fd9668"/>
<path d="M1080.8 325.4h0M712.5 887.5h0M1154.9 688.6h0M747 618h0M1170 475h0M1240.9 683.2h0" stroke="#fea571"/>
<path d="M728 1220h0M1126.1 526h0" stroke="#feb27a"/>
<path d="M1135.6 674.3h0" stroke="#fec185"/>
<path d="M754.8 1163.8h0M1212.7 261.7h0" stroke="#fecd90"/>
<path d="M1165.7 504.7h0" stroke="#fcf7b9"/>
<path d="M1210.2 937.2h0M1428.5 510.4h0M1287.5 820.9h0M1223.4 772.2h0M1319.9 759.9h0M1370.3 815.8h0M1282.6 584.9h0M1652.8 838.7h0M1091 387.7h0M937 691.5h0M1464.4 987.6h0M1516 571.8h0M1437.3 451.1h0M1511 557.3h0M1369.7 614.1h0M1433.2 586.4h0M1264 509.5h0M507.4 1032.2h0M1223 381.3h0M1398.5 734.2h0M1061.8 304.7h0M1054.6 675.3h0M1338.6 691.5h0M1504.7 799h0M1193.6 973.6h0M619.4 855.8h0M1147.7 933.2h0M1367.9 402.7h0M1372 1004.7h0M1448.8 915.7h0M1012.6 795.2h0M1447.8 710.2h0M1219.6 1146.4h0M1225.6 922.9h0M1180.3 920.5h0M973 520.1h0M1524.8 986.4h0M1489.4 549.3h0M1527.4 538.1h0M1344.2 869h0M867.4 571.3h0M1394.1 993h0M554.1 873.6h0M1354.3 942.4h0M1375.1 980h0M1416.6 550.5h0M1292.1 921.8h0M754.1 764.6h0M690.9 940.6h0M1392 542h0M1662.3 748.6h0M895.5 608.7h0M1161.2 1044.3h0M1329.7 692.3h0M1372 566h0M1387.9 968.4h0M580.3 789.7h0M1215.4 772.6h0M1195.3 360.7h0M682.7 781.7h0M1308.6 793.6h0M1050.8 749.2h0M1504.7 899h0M975.3 847.8h0M1537 601.8h0M1300.8 769.4h0M1552.8 751.8h0M1541.1 926h0M1260.9 998.7h0M838.4 981.9h0M1453.2 764.1h0M1385.8 441.9h0M1553.5 639.8h0M1563 865.2h0M1413.3 691.8h0M1100.7 317.9h0M1211 1059.6h0M1210.4 811.2h0M684.7 1075.5h0M1151.2 1078.9h0M1347.6 845.5h0M1049.8 318.9h0M1334.2 953.6h0M765 1003.9h0M902.4 952.9h0M1324.9 857h0M1568.4 940.5h0M1219.8 1015.5h0M1350.8 863.9h0M1174 920.2h0M1292.3 910.8h0M1180.2 376h0M1331.8 966.1h0M580 869.2h0M1239.1 368.3h0M1316.9 503.4h0M1217.6 957.8h0M670.3 973.4h0M1318.7 543.3h0M1314.4 753.2h0M1373.8 888.8h0M1347.8 949.4h0M1470.8 594.3h0M1177.8 841.6h0M621.4 1106.5h0M1424.2 636.5h0M1493 468h0M1092.5 904.9h0M900.9 537.4h0M1478.6 732.4h0M1481.1 903.6h0M1550 1025h0M1469.2 508.3h0M1510.5 710.3h0M610 859.8h0M1045 942.5h0M1292.7 507.6h0M1252.3 1013.1h0M1021.9 556.7h0M1291.2 989h0M1368.7 679.4h0M1517.5 873.7h0M1058.2 1019.3h0M1437.2 868.1h0M1481.9 920.3h0M1270.3 383h0M541.5 958h0M1430.4 792.1h0M675.6 906.8h0M543 843.3h0M1392.3 895.6h0M1336.2 1155.5h0M789.7 954.9h0M1431.1 900.9h0M1480.6 491.2h0M1340.8 608.7h0M1410.8 757h0M868 1059.8h0M1281.7 940.8h0M1258.9 492.8h0M609.9 761.5h0M1340.5 937.1h0M625.2 893h0M1370.3 1070.6h0M1078 577.8h0M873 863.5h0M582.9 875.6h0M1037.9 887.1h0M771.5 924.2h0M1308.7 999.2h0M976.3 586.7h0M1496.3 834.7h0M1622.8 820.4h0M1316.8 1132.4h0M1384.2 994h0M752.2 724h0M1256.2 869.2h0M1383.3 553.1h0M1139.3 802.5h0M1148.7 1062.5h0M1084.2 1105.6h0M1230.3 1102.8h0M1203.4 742.8h0M931.2 574.9h0M1605.4 579h0M1470 502.9h0M763.1 919.5h0M1333.3 419.1h0M1397.7 622.6h0M1295.2 1001.5h0M1286.8 713.5h0M1193.3 958.7h0M1650 918.1h0M1199.5 1045.8h0M1372.7 822.7h0M1446 932.8h0M1422.3 532.5h0M1261.4 931.8h0M1666.4 978.6h0M1411.7 604.9h0M1399.3 701.5h0M1350.3 791h0M812.2 752.9h0M1400.1 613h0M1372.9 935.5h0M956.2 928.2h0M1365 449.1h0M1373.3 727h0M1438.2 647.8h0M1559.6 965.7h0M1363.3 394.9h0M868 887.6h0M1560.8 535h0M1260.9 520.5h0M533.5 981.2h0M1321.2 429.3h0M1217.3 417.2h0M1588.7 560.2h0M1317.4 533.4h0M492.2 803.2h0M1500.2 659.8h0M1424.2 934.3h0M1246.4 1057.5h0M1069 253h0M1149.8 1039.9h0M1273 1119.1h0M856.5 596.4h0M1195.1 935.9h0M1501.4 676.3h0M1234.6 389.5h0M1014.9 650.6h0M1268.2 839h0M1510 1033h0M1362.7 897h0M1259.9 1070.5h0M1354 868.3h0M1150.7 1030h0M1366.3 1160.9h0M1391 822.3h0M1486.2 1060.3h0M1325.3 1153.7h0M1463.1 1017.4h0M547.8 820.9h0M780.8 1041.8h0M1111.7 271.1h0M1582.4 873.8h0M1176.8 297h0M1267.3 864.9h0M1471.9 954.9h0M657.3 923.9h0M1244.9 920.3h0M1339.7 752h0M821.6 943.9h0M1312.7 609.6h0M841.2 725.7h0M767.5 818.7h0M1044.9 473.8h0M668.8 674.5h0M1367.4 806.4h0M1493.7 588.9h0M1120.6 252h0M823.5 869.6h0M1018 671.4h0M866.7 790.1h0M903.5 566h0M1365.2 767.6h0M1404.1 511.5h0M1503.3 972.3h0M586.7 995.8h0M1225.5 1168.3h0M1507.2 913.4h0M895.1 640.7h0M1309.3 777.9h0M1247.8 944.8h0M1498.2 521.2h0M674.3 1006.2h0M1263.9 1007.6h0M1398.6 875.5h0M1213.4 1068.2h0M1448.3 1028.8h0M904.6 943.5h0M635.3 1018.5h0M1325 1017.8h0M1346.7 668.7h0M756.1 975.6h0M1257.4 1019.2h0M1343.5 1006.5h0M1319.5 1053.6h0M825.9 911.4h0M676.8 917.5h0M746.7 995h0M1545.2 538.3h0M779.2 735.6h0M958.5 947.6h0M1310.8 695.9h0M704.7 961.5h0M1183 1061.7h0M1260 1119.1h0M1300.8 874.9h0M1347.3 916.2h0M1330.2 848.2h0M899 910h0M1311.3 705.2h0M1314.8 498.2h0M1463.3 731h0M1421.7 687.8h0M1516.1 847.9h0M1206.1 927.4h0M1408 647.5h0M1501.3 781.1h0M1125.9 747.6h0M1397.2 453.4h0M667.8 1045.4h0M1358.9 848.9h0M1404.5 1086.8h0M1633 665h0M443.4 986.4h0M951.8 538h0M1502.3 687.5h0M1436.8 962.5h0M1541.2 871.4h0M1362 540.6h0M1543.8 831.1h0M1608.4 700.7h0M1115.8 948h0M1542.5 907.3h0M997.2 732.7h0M1308.1 890.6h0M1267.6 996.4h0M1069.6 860.8h0M1135.8 1042.8h0M877 540.3h0M1146.1 351.1h0M1279.2 1038h0M1203.9 817.4h0M606.2 898.9h0M925.8 908.5h0M795.2 1059.1h0M1598.6 844h0M1320.3 856.3h0M1521.9 949.3h0M1534.7 634.7h0M953.7 718.2h0M797.9 1034h0M865.9 1052.2h0M1518 698.7h0M852.6 1028.4h0M579 948h0M1158.6 772.8h0M1304.9 1015.9h0M958.6 1025.1h0M1293.9 629h0M1462.1 862.2h0M1108.4 743h0M1402.8 1144.5h0M1527.6 515.9h0M1116.7 316.6h0M1387.7 763.3h0M1466.8 1053.9h0M1135.3 920.3h0M1212.8 1127.3h0M1281.2 515.1h0M1363.5 974.7h0M720.7 974.5h0M1677.9 816.9h0M1577.2 654.3h0M961.1 930.6h0M1490.9 835.3h0M448 953h0M1418.2 1091.5h0M1219.8 930.1h0M572.3 975.8h0M993.9 542.5h0M832.2 962h0M1422.5 538.7h0M1410.3 536.8h0M1406.4 651.7h0M784 1050.5h0M1572.9 995.4h0M920.1 950.9h0M1419.3 511.1h0M1382.6 1101h0M1082.8 399.8h0M1264.8 984.3h0M758.4 923.3h0M1325.1 488.4h0M1172.9 1101.9h0M1334.1 675.9h0M1245.2 900.3h0M1280.1 885.5h0M1318.8 727.3h0M1469.4 521.7h0M1243.7 971h0M1369.2 1118.1h0M611.7 843.7h0M1453.7 953.4h0M1060.2 848.9h0M1023 360h0M1433 950.5h0M1277.8 852.5h0M1190.6 1100.1h0M1670.3 821.7h0M1204 912.2h0M1345.1 829.5h0M1421.9 1098.5h0M1350.3 1156.3h0M1078 977h0M1255.8 989.6h0M1261 1014.4h0M1332.7 623h0M1382.5 586.4h0M1663 776.5h0M1499.6 493.9h0M1328.2 1104.6h0M506.2 1026.5h0M676.9 1031.7h0M1265.6 1011.3h0M1390.4 1054h0M1000 1070h0M940 729.7h0M1166.8 366.5h0M1466.2 907.1h0M1094.9 1108h0M1582.3 941.3h0M1018.6 646.7h0M1675 943h0M506.1 1059.9h0M1166.7 1016.6h0M1363.7 433.6h0M1438 1107h0M1417.7 1108.2h0M1345.1 833.8h0M1281 375.5h0M1242.8 993.7h0M972.7 564h0M966.4 850.7h0M1285.5 1035.9h0M1557.3 962h0M1203.7 669.6h0M1214.7 1021.4h0M1475 763.3h0M1088.8 1035.8h0M1278.5 580.7h0M1226.8 909.9h0M1343.3 1105.2h0M642.7 911.9h0M1428.9 641.7h0M1021.2 1064.4h0M1281 1121.2h0M1608.6 630.3h0M1137.2 868.6h0M1040.2 665.6h0M1000.4 998.2h0M1225.2 659.9h0M911.5 731.5h0M1504.5 954.8h0M608 936h0M1198.3 1036.8h0M1405.4 1112.2h0M1385.9 599.3h0M491.5 1037.8h0M1563.3 594.4h0M1288.4 906.6h0M1309.1 407.6h0M1183.3 1018.6h0M1077 887.4h0M1336.4 567.7h0M1101.6 1027.6h0M852.9 543.3h0M565.2 1111.2h0M1339.1 1049h0M1215 1182h0M575.8 1060.9h0M1422.3 1006.7h0M1084.2 390.1h0M489 818.3h0M1533.8 530.6h0M1272.4 860.9h0M735.1 917.4h0M1291 1104.2h0M1333 546h0M734.6 1145.9h0M1432 941.1h0M697.5 824.3h0M1111.2 444.3h0M1066.7 1006h0M1188.8 342.6h0M1454.2 895.5h0M1434.1 1016.8h0M1583 1027h0M534 1002.2h0M1401.8 807.9h0M1485.3 770.5h0M570.5 863.4h0M1420.8 796.8h0M1378.1 655.9h0M1080.2 648.3h0M1029.3 587.5h0M1014.6 674.2h0M1401.9 548h0M1477.9 1057.6h0M1314.9 832.7h0M1254.2 963.6h0M1413.3 803h0M1542.5 808.4h0M1559.1 880.4h0M1445 1002.9h0M1122.6 352.1h0M598.6 993.2h0M1504.1 1020.2h0M1023.6 656.4h0M1486 606.1h0M759.9 718.1h0M1518.8 532.1h0M893.9 565h0M1461.9 819.8h0M1569.4 728.3h0M1609.3 852.7h0M1560 943.8h0M1383.3 692.2h0M1297.1 985.3h0M645.9 1030.8h0M1291.3 1043.9h0M1279.8 961.1h0M1444.7 595.2h0M1227.2 682.6h0M1037.1 1040.4h0M1419.6 1019.8h0M920.2 569.6h0M1329.4 555.9h0M1091 1077.7h0M1384 1051.2h0M1561 578.8h0M1645.6 862.4h0M1325.5 826.3h0M1351 391.5h0M1361 517.7h0M1099.2 855.9h0M1349.4 616.5h0M1469.5 945.6h0M1089.1 716.8h0M720.3 703.7h0M574.6 846.1h0M1493.4 787.9h0M1524.2 520.3h0M1348.9 397.9h0M1317.6 965.2h0M1443 522.3h0M1061 284.7h0M1579.5 824.8h0M465.8 1012.6h0M1305 358h0M1434.1 573.8h0M1169.9 334.9h0M1342.6 1017.4h0M1605.1 964.8h0M1628.8 956h0M1263.3 689.3h0M1444.4 791.8h0M1439.6 661.3h0M1643.7 963.6h0M1120.4 258.8h0M1490.6 864.5h0M1363.1 763.4h0M1310.8 659.3h0M1345.5 773.9h0M1316.2 662.2h0M1487 597.5h0M1554.4 711.7h0M1018.1 407.9h0M1027.7 1019.5h0M1387.8 943.2h0M845.6 1010.7h0M1676 868h0M549.4 895.2h0M1124.1 795h0M1231 868.4h0M767.7 680.2h0M1373.6 681.9h0M1491.2 755.4h0M1383.2 594.1h0M1359.4 640.6h0M1103.4 964.8h0M1392.6 634.4h0M1190.1 816.8h0M1328.3 702.5h0M1214.5 1056.7h0M923.6 655.1h0M1603.9 909.6h0M1409.4 1008.2h0M1304.1 762.1h0M1105 633.6h0M1324 917.4h0M777.3 687.1h0M1342.5 389.2h0M1343.6 970.4h0M582.9 974.1h0M1672.2 783.7h0M1106.4 681.4h0M1427.8 1097.6h0M548 1113h0M1565.9 560.3h0M1570 636.7h0M908 1024.2h0M1427 1024.3h0M1437.1 777.3h0M1054.5 871.9h0M1478.1 772.7h0M1092.7 284.4h0M1161.5 737.1h0M1314.7 540.3h0M1540.7 530h0M887 1068h0M1245.1 766.3h0M806.9 1049.3h0M1655.3 907.1h0M1037.4 560.7h0M1468.9 801.4h0M1547.8 581.4h0M918.5 606.7h0M1025 564.1h0M1094.7 278.1h0M1265.5 385.9h0M1260.8 567.5h0M547.5 940.1h0M1502.2 523.4h0M1438.3 752.4h0M1324 957.2h0M1495.5 611.8h0M1318 647h0M454.7 974.2h0M1466.2 546h0M949.5 1056.6h0M1251.4 1074h0M1377.1 1055.5h0M994.3 721.8h0M1618.4 822.2h0M1144.4 479.9h0M1392.7 1080h0M912.7 667.4h0M1042 697.6h0M1618.9 789.6h0M1118.6 1018.4h0M1313.9 932.1h0M1475.5 894.2h0M1427.2 1076.7h0M1120.6 450.6h0M1437.2 987.3h0M1532.6 715.4h0M1360 741.6h0M1191.3 525.7h0M1154.4 679.7h0M630.9 761.5h0M1471.6 681.4h0M1210.7 984.8h0M692.4 894.4h0M1337.9 886.3h0M1436.9 599.7h0M1166.1 1111.1h0M1053.1 920.8h0M454.6 881.2h0M1150.5 568.4h0M1093 1091.5h0M1401.1 654.7h0M1224.5 935.8h0M1505 1043h0M1114.1 365.7h0M1477 457h0M1502.1 1035.6h0M817.3 1075.6h0M1034 831.8h0M660.8 1076h0M1158.7 1039.9h0M1399.9 674.3h0M1352.3 765.3h0M1411.9 813.5h0M1572 1017.2h0M1564.2 927.5h0M1431.2 1056h0M1243.3 311.6h0M1255.9 1119.8h0M1324.6 718.9h0M483.2 917.5h0M1027.5 1013.3h0M538.6 985.4h0M1432.2 630.4h0M1239.6 1051.2h0M1120.8 1058.9h0M1477.8 805.2h0M660.9 947.3h0M936.3 910.1h0M1210 909.2h0M1455.4 810h0M1310.7 853.2h0M1149.3 1083.2h0M640.8 983.7h0M745.4 870.9h0M1069.1 824.8h0M534.1 1074.7h0M1006.2 950.8h0M1401.4 666.3h0M1547.3 556.4h0M1315.7 583.3h0M678.3 932.4h0M1108.5 935.1h0M1655.8 950.3h0M1481.5 1040.8h0M1288.8 572.4h0M1336.4 1032.6h0M634.2 766.7h0M1430.9 686.2h0M1316.8 637.7h0M1312.1 396.2h0M917.7 1038.5h0M790.4 811.9h0M599.4 1112.6h0M1390.6 933.9h0M886.1 599.3h0M1244.8 874.3h0M668.4 722.7h0M1421.1 749.9h0M913.5 958.3h0M1366.3 885.3h0M841.6 979.1h0M1629.6 914.6h0M1282.7 1067.2h0M809 1055h0M1346.2 572.1h0M1662.6 945h0M1337.2 880.8h0M1592.6 704.2h0M551.2 1060h0M1239.3 959.2h0M682.8 1008.5h0M1181.7 939h0M989 904.9h0M973.1 843h0M1527 673h0M929.8 606h0M738.9 820.5h0M1066.1 376h0M937.4 952.9h0M939.9 556h0M1451.1 905.5h0M958.6 616.4h0M1424.4 941.4h0M558.1 930.4h0M987.7 521.5h0M1348 1101.9h0M1274.4 512.1h0M1106.1 281.3h0M1437.8 1045.5h0M1595.9 885.7h0M1238.6 594.7h0M1046.9 628.7h0M488.9 986.6h0M1300 681.1h0M1499.8 916h0M1378.7 517.8h0M1284.2 1128.4h0M471.5 989.8h0M710.2 1156.1h0M1414.4 941.2h0M1324.4 736.1h0M1264.8 1103.2h0M1156.4 811.2h0M1395.7 861.4h0M1236 332.3h0M1192.1 707.9h0M723 1088.4h0M1304.9 872.8h0M929.5 642.6h0M555.7 997.7h0M1239.2 775.9h0M544.2 980.3h0M581.1 887.2h0M543.3 1077.7h0M1370.2 929.3h0M1302 857.2h0M1222.7 885.8h0M1122.2 761.5h0M1306.9 618.1h0M708.1 937.1h0M1294.8 956.6h0M1214.3 1114.2h0M1313.4 459.5h0M1525.9 759.2h0M1326.3 504.7h0M1323.7 1045.1h0M1674.5 939.9h0M1284 1156h0M1327.7 467.5h0M1322 676.9h0M1271.6 990.5h0M739.7 883.1h0M1436.2 881h0M1010.6 744.4h0M1146.5 860.1h0M1328.9 1089.8h0M1278.1 1063.5h0M1238.7 945.7h0M1314.9 988.9h0M1600.9 826.6h0M1327.7 1121h0M1102.6 613.9h0M1148.8 545h0M963.8 593.8h0M1383.1 807h0M879.9 882.4h0M440.6 964.6h0M1040.2 1026.7h0M1048.6 595h0M1426.1 1110.4h0M720.7 795.8h0M1414.3 963.4h0M495.3 836.8h0M1418.8 679.3h0M1397 1148h0M1353.6 665h0M1224.5 742.3h0M1318 796.7h0M1304 653.6h0M480.6 909.3h0M1137.5 764.8h0M1303.5 414.2h0M593.6 1042.8h0M1571.7 633h0M1601.3 883h0M1641 712.9h0M502.4 924.8h0M1468 1024.3h0M1495.3 540.6h0M1423 1066.6h0M626.6 925h0M1261 906.7h0M475.4 830.5h0M1043.2 948.7h0M1617.8 907.8h0M1163.1 889.7h0M1328.6 947.8h0M697.9 797.8h0M1474.6 715h0M1249.5 596.7h0M1292.3 578.5h0M1431 918.3h0M1231.7 316.5h0M1164.5 813.8h0M1237.9 783.6h0M1301.8 837.7h0M1246.7 940.9h0M1103.7 918.4h0M927.5 690.8h0M1362.9 1100.9h0M1075.8 344.2h0M569.5 789.6h0M566.6 857.9h0M642.4 958.5h0M526.7 978.2h0M738.6 950.2h0M1297 819.6h0M1502.6 714.7h0M1364.3 800.2h0M624.7 729.1h0M954.7 632.8h0M1439 1054.4h0M1325.9 843.1h0M1333.8 730.2h0M674.2 1042.3h0M1240.2 950.1h0M1344.6 988.7h0M1447.4 894h0M1351.7 1117.2h0M1222.4 725.4h0M942.9 846.7h0M1656.9 977.1h0M1504.7 618.1h0M1580.1 745.8h0M1319.9 476.8h0M1345 842h0M1531.6 998h0M495 988h0M1320 1151.5h0M1234.9 1174.3h0M1157.4 475.8h0M1590.8 677.6h0M1167.7 888.8h0M684.9 965h0M1082 711.9h0M1185.8 1055.9h0M1398.3 759.5h0M595.5 1019.7h0M583.7 1098h0M897 896.2h0M1055.8 632.4h0M1652.4 755.5h0M1458.9 1001.4h0M1300.6 436.5h0M1523.8 722.4h0M1253.6 600.8h0M1222.5 1108.7h0M460.3 973h0M1213.5 374.2h0M480 797h0M1024.2 688h0M1435.8 1092.6h0M1314.1 708.6h0M1057.1 282.9h0M639.3 774.7h0M1292.4 1021.3h0M1278.4 1016.1h0M716.1 1019.4h0M868.9 911.8h0M659 956.2h0M1513.2 936h0M634.8 714.9h0M1194.9 264.8h0M1359 1102.9h0M1543.5 899h0M1229.5 845.4h0M1436.8 993.5h0M1273.2 1013.2h0M1265.7 878.4h0M1295.6 651.9h0M936.3 915.9h0M1488.4 590.3h0M1024.9 870.2h0M1300.2 852h0M1463.9 533.6h0M1288.2 446.1h0M1371.7 840.8h0M1287.7 1134h0M648.6 1044.2h0M1546.4 881.7h0M1198.9 943.5h0M1638.1 899.2h0M1576.7 662h0M1133.5 280.3h0M785.1 999.2h0M1109.6 768.9h0M546.6 923.5h0M1670.8 750.1h0M1276.3 623h0M945.6 545.2h0M1312.4 1136.8h0M1429.8 812h0M855.1 1016.4h0M1543.5 543.7h0M1588.2 593.6h0M1624.1 636h0M1165.8 817.7h0M1431.1 1105.8h0M907 710.9h0M1521.8 599.2h0M1450.1 481.9h0M1284.5 606.2h0M530 996.3h0M1400.6 979.8h0M1342 571.4h0M1326.6 807.1h0M980 979.2h0M1226.1 1143.1h0M1453.8 695.6h0M772.9 916.8h0M1651.9 965.4h0M847.4 741.1h0M1276.4 928.5h0M478 1052h0M1032 517.8h0M871.8 618.1h0M1381.4 813.8h0M1414.5 848.5h0M1244.3 863.6h0M586.6 749.3h0M1545.1 919.4h0M538.9 860.7h0M1482.2 984.9h0M1323.2 1148.2h0M1380.4 707.8h0M1530.5 793.7h0M877.1 1030.7h0M1282 880.3h0M996.4 966.3h0M531.4 810.3h0M521.9 900.9h0M1366.9 627h0M1285.9 938.5h0M1561.1 652.9h0M1317.6 792h0M1276.2 454.8h0M1158.3 300.1h0M494.1 1025.9h0M1322.8 1078.5h0M1130.8 1087.4h0M514.7 936.5h0M786.4 986.3h0M1475.9 1081.5h0M1318.8 1015.1h0M1548.8 872.8h0M1218.9 563.4h0M1131.4 836.2h0M1415.2 879.8h0M474.7 867.5h0M1499.9 897.2h0M617.1 934.7h0M790.9 918.8h0M1338.4 986.7h0M762 1020.5h0M1470.8 498.3h0M1304.6 853.6h0M972.4 533.3h0M707.4 891.8h0M1507.7 588.4h0M1045.5 820.8h0M853.4 627.7h0M1421.2 441.4h0M499.8 829.4h0M1571.3 964.3h0M1339.3 426.9h0M1409.8 584.2h0M833.5 582h0M567.2 945.2h0M1390 836.4h0M1114.7 248.6h0M1351.6 1083.7h0M1304.6 967.5h0M1275.8 993.2h0M1553 517h0M1021.2 560.6h0M1377.7 956.3h0M1185.6 1008.3h0M1437.2 724.9h0M1345.8 656.5h0M1594.7 598.6h0M1241 1018.7h0M1208.1 1002.8h0M1172.7 1118.4h0M1407.6 882.6h0M938.3 521.3h0M1156 1120.4h0M1446.5 979.2h0M1541.9 645.4h0M1664.2 983.1h0M1350.6 848.7h0M1169.9 1027.7h0M1126.5 883.3h0M1330.8 739.4h0M1019.9 1052.6h0M1212.9 851.5h0M1380.3 562.2h0M1422.2 946.7h0M1489.6 986.1h0M825.5 1024.6h0M1430.6 617.7h0M913.3 1002.1h0M530.4 922.1h0M1366.5 873.2h0M1270.4 880.7h0M1321.8 1035.1h0M770.4 729.4h0M1441.3 840.5h0M1500.4 1070.1h0M1413.6 771.3h0M844.6 901.2h0M1049.3 574.8h0M1358.7 827.4h0M1240.8 483h0M1605.9 619h0M1102.7 1048.5h0M1486.4 583.7h0M851.9 846.1h0M706.2 1143.6h0M1131 810.8h0M1511 485.7h0M1066.7 265.8h0M1313.5 1077h0M1440.9 727.3h0M1322.4 910h0M981.9 662.2h0M716.5 767.4h0M1130.6 779.6h0M1318.7 443.4h0M1231.3 774.4h0M1253.1 936.6h0M1512.5 717h0M1319.2 1029.8h0M1108.4 866.6h0M785 1063.2h0M1430.7 443.7h0M1424.7 481h0M1428 457.5h0M1610.6 828.2h0M1353.4 574.9h0M1429.8 678.3h0M452.6 938.1h0M1163.6 1081.7h0M1372.7 948.2h0M1468.7 760.2h0M913.5 636.6h0M614.5 885.4h0M1446.6 498.2h0M598 1002.5h0M635.9 974.4h0M1067.9 671.4h0M1627 628h0M1347.2 1123.6h0M910.9 738.6h0M1461.5 1085.5h0M1270.4 511.9h0M1396 1046.3h0M675 1093h0M1537.2 640h0M669.2 874.6h0M847.8 942.6h0M1475 1095h0M1331.6 402.9h0M951.8 766.7h0M1062.2 277.2h0M1417.4 767.4h0M616.3 818.6h0M1342 435.4h0M1536.1 588h0M568.6 1056.3h0M1052.3 951.3h0M686.6 1040.5h0M1312.4 717h0M1040.7 940.5h0M1385.6 814.7h0M1477.5 600.6h0M1301.6 674.3h0M1003.7 457.9h0M1361.4 937.1h0M701.5 946.3h0M760.2 912.6h0M1334.9 395.7h0M1614.1 976.7h0M1484.7 926.2h0M1440.7 488.9h0M668 741.4h0M1403.8 688.7h0M1272.1 1091.8h0M922 1039.8h0M1378 919.3h0M1448.9 592.1h0M1340 1173h0M1506.5 890.2h0M1204.2 659.8h0M724.7 907h0M806.4 1017.6h0M1379 592h0M747.3 913.7h0M998.3 1012.9h0M1445.8 678h0M604.6 979.6h0M1460.2 675.5h0M1254.5 682.9h0M1284.7 422.2h0M1165 308.2h0M1379.4 614.2h0M1258.3 1083.5h0M1298.7 1126.2h0M1554.6 691.6h0M1390 681.7h0M1243 310h0M1464.9 696.9h0M1326.9 761.4h0M1494.8 595.5h0M1291.7 550.9h0M1081.7 1082.3h0M1288.5 1177.6h0M1230.7 1001.9h0M502.3 813.5h0M1589.9 694.8h0M1218.9 345.9h0M1189.1 256.4h0M1392.3 907.8h0M1324.1 755h0M1648.3 780h0M1289.4 402.7h0M897.4 1056.5h0M450 943h0M518.1 973.6h0M1606.2 934.6h0M1118.9 603.8h0M730.9 701.8h0M1328.8 1024h0M1289.4 855h0M1569.4 524.7h0M1391.6 1129.3h0M1403.9 944.5h0M1213.1 1145.6h0M1156.9 1059.8h0M1476 918.6h0M466.9 909.5h0M1036.6 761.7h0M692 912.9h0M1368.8 749.1h0M1593.6 968.5h0M899.5 881.1h0M1048 903.1h0M1287.6 1072.4h0M1356.9 700.3h0M1426.4 575.2h0M1332.3 1045.2h0M1400.7 833.7h0M1048.5 1035.2h0M1494.6 751.2h0M1214 977.3h0M1062.8 318.2h0M1283.2 1075h0M1542.4 673.1h0M1316.8 420.6h0M1103.5 271h0M1172.2 874.8h0M1408.6 891.2h0M1381.5 723.3h0M1321.2 407.8h0M1647.8 838.2h0M667.6 750.5h0M1065.3 314.1h0M1464.6 1050h0M1407.6 635.9h0M822.9 889h0M1299.3 922.1h0M1327 934.2h0M1273.3 1124.9h0M1607 1023h0M714.7 1014h0M1373.1 500.6h0M1344.2 735.7h0M1362.4 855.8h0M607.3 1040.7h0M1447.5 726.1h0M1463.7 587.7h0M1489.9 1044.1h0M1288.5 952.3h0M1312.9 973.9h0M1390.4 627.7h0M555.4 867.6h0M567.5 816.8h0M489.6 861.7h0M1479.1 542.4h0M1401.9 444.1h0M1017.2 694.6h0M1570 518h0M1260.7 1033.8h0M565.4 1051h0M1614 912h0M987.6 1011.3h0M1229.5 576.9h0M1363.8 907.3h0M685 989.6h0M913.7 949.3h0M1406.8 557.4h0M1278 783.5h0M1434.1 848.4h0M1346.3 717.8h0M1482 1090h0M1345.7 623.4h0M1133 611.3h0M1663.6 900.3h0M1426.7 721.3h0M1515 984h0M850.4 1047.6h0M769.5 1004.9h0M1460.2 474.9h0M437.3 985.4h0M1347 1069.3h0M1281.5 837.6h0M984 819.7h0M1348 648.9h0M1262.2 856.8h0M1486.8 630h0M1251.7 1148.9h0M669.5 1055.9h0M1316.1 1092.9h0M1232.6 1014.1h0M921.1 963h0M1405.1 749h0M1464.8 515.9h0M1060.4 1049.1h0M970.2 510.7h0M1178.3 988.9h0M1386.1 616.8h0M1094.7 1099h0M1348.6 514.8h0M630 707h0M1071.4 476.4h0M1364 552.1h0M1543.4 824.3h0M955.6 882.8h0M1376.3 731.3h0M1038.8 1060.1h0M458 857h0M1227.6 991.2h0M1052.8 964.1h0M1530 886.9h0M1084.2 1026.9h0M1550.1 854.5h0M1414 1023.6h0M1270.8 1062.6h0M893.6 1015.2h0M1402.4 705.9h0M1259.9 1002.7h0M1538.8 856.4h0M1114.6 632.5h0M1149.1 775.3h0M1416.2 828.4h0M1242.2 379.6h0M1501.2 682.2h0M475.2 1009.5h0M642.1 890.8h0M1227.3 1099h0M804.4 990.1h0M1011.2 720.7h0M1220.3 1011h0M1416.9 775.3h0M1461.2 852.4h0M1203.3 900.8h0M1490.2 846.3h0M996.4 408.1h0M938.2 1063.2h0M1115.7 258.1h0M1542.3 587.5h0M1371 923.4h0M1512.7 844.7h0M1247.2 793.6h0M1070.1 816.4h0M1195.1 810.2h0M1292.2 423.6h0M1232.9 836.7h0M1017.1 805.7h0M1210.8 822.1h0M764.9 909.3h0M1271 702h0M772.1 981.9h0M1333.8 718.6h0M1413.3 500h0M1439.8 830.6h0M1424.9 922.4h0M804.6 944.6h0M1394.8 649.1h0M1399.5 589.1h0M1298.3 1138.7h0M727.5 1147.5h0M1022.5 614.9h0M425 993h0M986.6 881.9h0M1446.6 962.7h0M1669.9 825.9h0M1085.5 565.9h0M1400.9 438.1h0M963.1 674.5h0M1207.3 1077.1h0M1053 715.4h0M1425.2 863.4h0M500.5 1058h0M1051.1 409.8h0M1331.2 817.8h0M1376.2 893.2h0M1169.2 1010.9h0M1442.5 1074.5h0M929.9 546.8h0M1222.5 1137.2h0M630.3 810.4h0M1165.6 734.8h0M1421.7 997.4h0M1280 363.2h0M1308.3 882.4h0M631.5 1015.7h0M545.5 1046.4h0M967 590.5h0M1047.5 1102.9h0M727.1 914.5h0M1021.9 767.3h0M1546.6 927.7h0M1337.6 725.4h0M1318.9 1066.9h0M867.5 640.8h0M1462 550.1h0M1619.5 1013.3h0M1566.6 535.4h0M1335.2 802.8h0M1332.3 997.1h0M953.9 541.8h0M1417.1 578.7h0M1042 351.7h0M1367.7 544h0M1469 1072.8h0M1439 688.9h0M1500.8 769h0M833 767.3h0M815.3 839.1h0M1328.8 1128.7h0M1540.6 1012.9h0M1190.8 882.1h0M1293.4 776.4h0M1378.8 1031.5h0M1431.6 1051.1h0M1087.9 597.7h0M1052.9 503.5h0M1469 733.5h0M523.3 982.6h0M1318.9 805.2h0M1175.8 799.3h0M1507.4 581.2h0M1302.1 718.9h0M1449.8 848.1h0M1273.6 417.8h0M1407 425h0M1157.1 826.4h0M511.3 796.6h0M1652.3 897.5h0M1223.4 780.6h0M1616.8 733.5h0M888.4 957.2h0M1542.1 595.4h0M1074.3 1081.5h0M1472.2 534.5h0M1168.4 896.5h0M1526.9 818.7h0M1037.2 503.3h0M1248.9 1031.1h0M1386.1 1119.8h0M1393.9 743.7h0M1229.6 440.9h0M1667 277.4h0M1640 290.6h0M1638 291.6h0M1656 287h0M1663 289h0M1670 288h0M1678 287h0M1688 289h0M1679 292h0M1664 292h0M1645 300h0M1649 303h0M1654 301h0M1644 305h0M1652 307h0M1655 306h0M1649 309h0M1653 311h0M1669 301h0M1686 303h0M1623 306h0M1633 310h0M1718.4 304.6h0M1746.4 307.4h0M1676 308h0M1681 311h0M1671 313h0M1696 308h0M1703 308h0M1707 311h0M1692 312h0M1700 314h0M1688 316h0M1733 313h0M1740 318h0M1747 322h0M1721 318h0M1730 322h0M1644 316h0M1606 319h0M1615.4 321h0M1593 323.4h0M1596.6 329h0M1592 340.6h0M1560 347h0M1563 349h0M1566 350.6h0M1624 330h0M1625.6 328h0M1636 330h0M1640 330h0M1649 333h0M1654 329h0M1660 326h0M1674 328h0M1680 330h0M1686 324h0M1690 330h0M1694 334h0M1700 336h0M1708 330h0M1712 336h0M1726 328h0M1730 334h0M1738 330h0M1740 328h0M1736 339h0M1728 344h0M1732 348h0M1736 349.4h0M1747 341.4h0M1720 344h0M1712 344h0M1716 350h0M1724 354h0M1728 358h0M1728 363h0M1730 369h0M1724 372h0M1720 370h0M1708 368h0M1707 358h0M1704 361h0M1710 363h0M1679 341h0M1680 346h0M1660 347h0M1652 351h0M1640 344h0M1632 346.6h0M1676 356h0M1684 359h0M1690 360h0M1695 356h0M1692 366h0M1695 368h0M1689 373h0M1690 379h0M1698 377h0M1695 383h0M1700 384h0M1704 383h0M1698 389h0M1686 387h0M1616.6 353h0M1628 360h0M1639 357h0M1639.4 363h0M1623 366h0M1653 362.4h0M1660 361h0M1631 372.4h0M1626.4 375.4h0M1665.6 389.6h0M1686 398h0M1693 398.6h0M1698 397.6h0M1683 411h0M1688.4 416h0M1672.4 440.6h0M1644.8 468h0M1682 318h0M1685 321h0M1698 320h0M1706 318h0M1710 322h0M1704 326h0M1696 328h0M1718 330h0M1724 338h0M1732 326h0M1734 342h0M1725 348h0M1712 352h0M1722 366h0M1715 368h0M1692 352h0M1687 368h0M1693 375h0M1701 379h0M1692 388h0M1697 392h0M1032 270h0M1645 468h0M1672 441h0M1662 660h0M1575 1047h0M1575 1058h0M782 1173h0M803 1172h0" stroke="#000004"/>
<path d="M465 1035h0M1403.6 638.9h0M613.1 871.3h0M482.7 1054.6h0M1097.5 760.9h0M1615.5 947.9h0M1245.1 1005.2h0M1288.8 473h0M1042.1 357.4h0M1267.6 828.6h0M1284 763.6h0M1461 845.9h0M901.9 572.3h0M1079.8 762.9h0M1259.1 406.8h0M1239.9 455h0M1160.9 522.1h0M1217.5 597.5h0M965.3 776h0M981.7 682h0M1440.3 816.9h0M1599.3 678.8h0M1405.8 608.7h0M1448.4 673.9h0M1430 548.4h0M544.5 1008.6h0M1617.3 926.6h0M687.7 1130.7h0M1140.2 448.4h0M1053.8 525.8h0M974.2 552.7h0M1333 579.3h0M889.7 727.8h0M1683.7 795.7h0M737 1080h0M1404.8 574h0M1109.5 633.3h0M681.5 797.2h0M1342.7 419.9h0M1127.8 1022.3h0M597.5 817h0M715.5 894.4h0M654.1 1044.7h0M1005.6 664.3h0M1206.2 557.5h0M1139.8 945.6h0M967.9 684.6h0M952.4 804.4h0M1199.5 257.4h0M1251.6 679.7h0M1504.5 658.1h0M944.6 739.6h0M1132.8 453h0M1215.8 593.6h0M1494.4 548.6h0M558.3 904.1h0M1167.5 706.6h0M603.9 778.6h0M1207.3 1035.5h0M1492.5 482.2h0M781.9 831.6h0M1611.6 606.1h0M1363.1 1092.7h0M1427.8 600.6h0M1416.7 574.2h0M1407.6 848.5h0M1185.9 989.4h0M1065.8 477.1h0M1407.3 594.4h0M1152 256h0M1057.2 463.4h0M685.7 872.9h0M1580.3 580h0M1343.7 1163.3h0M1169.4 531h0M1132.1 495.1h0M1474.5 739.7h0M1338.1 481.6h0M1595.9 631h0M1055.7 1004.5h0M648.2 850.9h0M676.2 1047.6h0M1164.8 648.8h0M1044.2 614.8h0M1556.8 746.4h0M1234.1 1071.7h0M1408.7 1048.1h0M1598.9 898.6h0M1488.3 829h0M1337.5 949.4h0M1383.1 955.1h0M1615.7 896.9h0M1098.6 461.3h0M1435.9 492.7h0M699.8 1132.2h0M1155.6 671.5h0M896 524.1h0M836.3 566.5h0M1561.8 615h0M515.4 1030.6h0M1489.5 808.7h0M1442.8 476.4h0M683.4 824h0M1459.5 519.6h0M1519.2 538.6h0M941.5 697.4h0M1228 1133.5h0M722 638h0M752.2 849.9h0M1271.1 649.4h0M649.6 972.2h0M1481.4 915.7h0M1046.7 692h0M1467.2 959.4h0M1598 1015.2h0M1424.9 1061.5h0M1333.1 376.3h0M1500.4 629.4h0M897 487h0M1547.6 603.8h0M1149.1 304.8h0M1655.7 943h0M1326.2 586h0M723.6 937.6h0M1418.6 561.1h0M1222.2 650.6h0M760 622h0M740 1152h0M1228.5 719.4h0M1420.2 813.6h0M1615.2 985.1h0M1396.3 930.4h0M1509.9 1005.2h0M1224 949.7h0M852.9 590.9h0M1265.3 1080.4h0M1495.9 674.2h0M968 484.9h0M742.5 622h0M1260.8 420.3h0M721.9 1060.5h0M1197 1172h0M1446.8 569.9h0M1366.7 712.2h0M1251.3 476.5h0M1513.1 1011.5h0M1515.3 720.1h0M853.9 573.6h0M423.2 965.7h0M1496.8 796.6h0M642.5 1051.2h0M1457.3 511.4h0M1616 722.5h0M986 561.8h0M1256.8 733.8h0M713.3 1098.7h0M1165 264h0M1453.4 523.4h0M1297.6 466.4h0M1103.9 527h0M881.6 561.9h0M726.3 1058h0M1356.4 446.7h0M1246.1 534.9h0M468.4 890.1h0M1404.7 1064.3h0M1460.2 558.3h0M986.4 739.3h0M1654.1 791.2h0M1443.7 604.9h0M1613.3 660.9h0M612.5 1086.1h0M825.7 797.2h0M1258 993.2h0M1551.4 560.8h0M1255.7 719.1h0M601.4 807.1h0M1585.6 769.6h0M1620.4 755.2h0M1304.3 908.2h0M1208.8 761.2h0M1134.5 864.3h0M651.6 888.9h0M1423.4 475.1h0M1041 715h0M1136.5 606.4h0M1142.1 628.6h0M1303.8 777.2h0M1205.7 730h0M1531.8 672.8h0M610.6 961.9h0M1212.6 1079.3h0M1398.8 838.6h0M811.2 744h0M1165.2 302.9h0M510 1073h0M1483.2 753.9h0M1195.9 858.3h0M1160.1 1014.4h0M840 532h0M1197.5 321.4h0M1552.3 827.8h0M1236.3 311.7h0M1451 566.8h0M1231.1 1079.3h0M1505.1 863.3h0M588.9 929.9h0M1424.3 570.9h0M1515.8 745.9h0M1213.2 468h0M1515.8 816.9h0M1211.9 629h0M732.6 890h0M899.2 630h0M1466.2 1077.4h0M968.8 869.1h0M1546.4 933.2h0M1401.9 453.1h0M1168 263h0M1510.3 757h0M1150 736.9h0M1125.3 603.2h0M679.2 1057.6h0M1368.9 891.9h0M1340.6 673.4h0M1165.6 286.9h0M1512.5 567.4h0M1553.8 934h0M1487.5 575.1h0M1152.3 728h0M1188.6 635.5h0M1493.6 652.8h0M1593.5 869h0M457.2 869h0M1519.7 507.4h0M1368.3 735.3h0M692 1122.3h0M1318.3 904.1h0M1258 800h0M1315.4 881.6h0M1403.4 648.6h0M1243.1 740.3h0M883.1 717h0M1378.4 465.8h0M1432.1 635.8h0M1149.6 844.7h0M1251.7 657h0M1651.4 286h0M1629.4 293.4h0M1629.4 307.4h0M1645.4 321h0M1657.4 321.6h0M1673 319.4h0M1700.6 323.6h0M1715.4 324.6h0M1579.4 334.6h0M1721 336.6h0M1719.4 360.4h0M1669 349.4h0M1711 389h0M1718 380h0M1621 358.6h0M811 566h0M792 1182h0" stroke="#51127c"/>
<path d="M1444.3 549.1h0M580.7 863.4h0M633.7 941.4h0M1173.9 810.7h0M1060.2 786.5h0M1332.4 559.6h0M751.3 936h0M747.4 918h0M1288.9 520h0M1091.2 802.1h0M1213.1 799.4h0M610.4 920.9h0M834 733.7h0M565.6 972.1h0M1134.4 845h0M714.9 719.6h0M1576 581.2h0M1170.3 900.4h0M982.3 1045.7h0M1271.1 938h0M1064.1 879.8h0M914.3 1018.9h0M543.4 897.9h0M463.4 950.4h0M599.8 962.1h0M1195.3 979.5h0M1152.5 772.2h0M1311.7 473h0M1400.2 947.9h0M1386.3 792.3h0M1261.8 991.3h0M1245.9 503.9h0M1312.8 507.6h0M1110.1 813.9h0M904.4 1029.3h0M1092.5 916.8h0M538.5 1002.8h0M1546.6 728.2h0M650.1 743h0M505.2 887h0M795.7 937.6h0M1351.5 889.7h0M1157.2 567.8h0M800.1 829.8h0M1033.3 667.6h0M1031.2 676.5h0M1057.6 456.3h0M530.5 1087.6h0M1063.4 919.4h0M1504.8 979.1h0M1406.3 502h0M652.8 1062.7h0M634.5 987.3h0M1534.6 551.5h0M1159 649.3h0M722.3 819.3h0M777.6 875.8h0M550.7 919h0M593.7 1050.3h0M1339.1 404.7h0M1459.1 778.7h0M964.5 657.2h0M1534.7 564.1h0M1196 1148.4h0M1485.5 529.2h0M669.4 954h0M1296.6 864.7h0M1188.7 570.9h0M859.9 528.6h0" stroke="#5c167f"/>
<path d="M561.2 908.2h0M945.3 689.4h0M776.2 827.5h0M1121 869h0M1280.4 650.8h0M1006.9 958h0M1168.1 656.5h0M650.6 1004.2h0M1018.8 550h0M926.5 1047.8h0M976.4 1040.3h0M1123.9 969.1h0M1237.7 739.1h0M1107.4 789.3h0M1187.5 915h0M1037.5 801.2h0M1158.9 726.2h0M1047.8 696h0M529.2 877.3h0M1004.7 736.4h0M1088.2 741.4h0M528.7 972.2h0M1067.4 692.7h0M1375 511.4h0M474.5 1040.6h0M760.3 819.7h0M786.6 976.2h0M743.6 987.4h0M907.2 618.4h0M545.2 1104.1h0M893.2 615.4h0M635.1 917.8h0M1552.5 732.5h0M852.8 829.3h0M1199.7 896h0M1212.9 861.4h0M1285.7 539.2h0M1138.9 746.3h0M889.8 854.6h0M1117.4 809.5h0M1654.5 924.1h0M855.3 923.2h0M1021 1047.3h0M588 862.1h0M962.4 689.3h0M1167.3 952.7h0M613.1 1000.8h0M1280.5 566.2h0M604.6 1061.5h0M787.5 902.9h0M1066.4 884.7h0M633.4 934.2h0M718.4 987.7h0M453 882h0M1510.6 523.4h0" stroke="#681c81"/>
<path d="M1199.5 613.3h0M1190.7 744.7h0M514.4 899.4h0M1627.8 664.8h0M1041 629.6h0M655.5 940.9h0M1093 562.9h0M566.3 1084.9h0M1054.3 550.7h0M472 827.7h0M862.1 1024.5h0M1196.7 917.1h0M1269.6 571.8h0M695.2 917.7h0M810 966.9h0M891.4 605.5h0M1245.2 986.6h0M697.4 774.4h0M775.1 661.2h0M498.6 1008.8h0M1168.5 772.5h0M1233.7 799h0M536.5 827h0M1183.9 825h0M1055.2 724.7h0M504.7 971.4h0M1078.2 893.3h0M712.8 942.5h0M906.2 562.9h0M1130.7 898.8h0M1021.6 603.3h0M686.8 941.4h0M1163.5 318.1h0M1507.3 481.4h0M864.1 774.8h0M1040 513.1h0M1145.9 796.5h0M994.2 568h0M1020.6 636.4h0M803.8 811.2h0M1663 993h0M866.3 866.3h0M985.3 787.1h0M672.9 924.8h0M1217.2 666.2h0M1073.3 375.9h0M1124.9 853.5h0M1051.9 838.7h0M596.3 1010.4h0M1017 627.4h0M538.7 847.9h0M1208.7 853.1h0M1207.6 858h0M1130.2 863.9h0" stroke="#732081"/>
<path d="M1185.7 926.3h0M1136.5 755.5h0M992.3 519.6h0M706.2 1020.2h0M816.1 911.9h0M1119.6 468.7h0M1180.2 287.4h0M629 928.8h0M618.6 924.3h0M1280.9 662.8h0M559.4 835.8h0M780.4 942.2h0M1074.2 513.2h0M700.9 759.2h0M621.1 985.9h0M1176.8 807.6h0M860.9 1035.8h0M941.6 681.6h0M512.6 894.2h0M1079.7 556.8h0M693 1157h0M1194.9 843.8h0M1261.4 663.7h0M906.1 646.3h0M1090.4 1020.1h0M726.6 996.4h0M885.9 607.1h0M1093.6 796.9h0M736.2 1187h0M992 408h0M1010.2 448.4h0M1215.7 835.6h0M1152.9 368.7h0M499 1042.7h0M833.9 657.4h0M1028.9 903.6h0M510 906.6h0M558 1089.9h0" stroke="#802582"/>
<path d="M1087.4 831.5h0M787.7 965.8h0M612 730h0M585.5 812.3h0M1067.6 401.9h0M832 587h0M1224.1 296.9h0M531.4 936.5h0M1430.4 1038.7h0M1387.2 1002.4h0M1252.8 614.2h0M813.1 1008.8h0M603 732h0M1569.2 574.8h0M599.3 970.1h0M1616.9 840.8h0M1366.8 833.6h0M924.1 954.3h0M1197.9 628.3h0M980.9 730.6h0M1120.8 716.4h0M605.5 940.6h0M462.7 920h0M1063.6 545.4h0M687 663h0M1506.1 542.9h0M1067.6 662.1h0M1358.1 554h0M697 1139.9h0M956.4 674.1h0M554.5 950.2h0M1226.3 712.7h0M1187.5 505h0M1144 567.1h0M1058 660.4h0M582.7 1090.9h0M509.1 954.1h0M1096.5 478.5h0M1160 384.5h0M1287.8 597.7h0" stroke="#8b2981"/>
<path d="M838.8 588h0M742.1 741.7h0M1464.3 502.6h0M1036.3 1016h0M774.1 1026.2h0M1212.7 686.2h0M1165.3 1054.2h0M984 542.9h0M1053 302h0M514.9 1022.8h0M764.2 892.7h0M518.2 1070.6h0M921.5 1062.8h0M1354.8 676.6h0M1116.1 389.7h0M1175.6 702.9h0M1085.9 461.8h0M831.8 1001.7h0M844.1 812.4h0M854.1 1064.1h0M1251.9 723.2h0M538.1 1107.8h0M967.7 622.7h0M1130.7 922.8h0M1571 776.8h0M1601.1 581.3h0M897 802.6h0M1216.6 649.9h0M1161.6 970.5h0M674 740.1h0M1089.2 701.8h0M687 1100h0M1185.9 602.5h0M1197.8 795h0M827.6 1072.9h0M723.8 1138.8h0M563.7 989.4h0M1460 725.5h0M1395 520.4h0M1164.4 912.6h0M1112.2 953h0M1361.4 836.9h0M1129.4 593.6h0M1091.2 959.2h0M614 811.2h0M605.7 1068.4h0M1095.2 542.3h0M1079.6 818.8h0M1690.4 347.4h0M1718.6 383h0" stroke="#982d80"/>
<path d="M848.3 776.3h0M1525.9 615.7h0M1139.1 951.8h0M1113.6 488.1h0M1369.6 576.2h0M1294.8 1122.6h0M785.5 915.8h0M1517.1 636.8h0M1172.3 938.8h0M996.6 604h0M817.3 920.9h0M914 647h0M455 992.7h0M794.1 1024.4h0M883.1 627.9h0M942.1 898.9h0M1138.1 728.1h0M1136.4 571.1h0M683.8 841.6h0M456.9 927.7h0M461.4 846.8h0M470 1017.2h0M1233 685h0M1094.4 934.5h0M937.9 631.6h0M1243.1 722.2h0M1408.5 1078.8h0M418 958h0" stroke="#a3307e"/>
<path d="M903.5 732.1h0M983.4 458.1h0M1136.7 415.6h0M1168.3 669.7h0M593.1 835.6h0M828.4 846.9h0M824.1 998.9h0M1008.7 525.2h0M914.1 790.1h0M816.1 849h0M1244.5 692.3h0M603.3 859.7h0M1122.1 1051.8h0M741.7 1171h0M1118 546.7h0M946.3 1019.1h0M848.9 558.8h0M1236 346.2h0M1093.1 736.5h0M804.5 667.9h0M1140.6 609.6h0M955 650.8h0M1111.5 411h0M675.9 894.4h0M1090.5 571.8h0M1147.7 956.6h0M773 1178h0M802 1167h0M772 1192h0" stroke="#b0357b"/>
<path d="M813 869.3h0M1172.5 839h0M1043.9 339h0M1141.8 562.5h0M947.2 484.3h0M669.9 824.5h0M966.7 663.5h0M999.5 814.8h0M691.6 1020.5h0M836.8 956.3h0M1318.1 888.6h0M1076.8 788.5h0M1202.1 975.5h0M621.4 1000.7h0M1613.5 761.1h0M685 1110h0M1068.4 356.3h0M857.9 623.6h0M1149.5 1018.4h0M842.7 542.9h0M1231.7 743.6h0M1057.1 320.3h0M1104.3 1000.4h0M1513 490h0M1080.2 532.6h0M626.5 944.4h0M833 1083h0" stroke="#bc3978"/>
<path d="M1112.2 541.2h0M1103.3 562.8h0M829.4 696.7h0M734 1199.8h0M1222.9 279.4h0M1222 278h0M898 990h0M679 775.3h0M1016.1 667.1h0M1060.2 941.8h0M603.6 853.5h0M1147.1 374.7h0M878 508h0M721.4 749.6h0M1160.6 810.5h0M812.3 841.9h0M722.1 861h0M1128.2 571h0M1175.2 507h0M741.3 809.1h0M957.8 681.6h0M619.9 796.4h0M1053.9 803.7h0M1101.5 811.3h0M680.8 684.2h0M1636.2 941.4h0M1114.4 893.9h0M632.7 891.7h0" stroke="#c83e73"/>
<path d="M672 1067.2h0M721.7 1157.5h0M1041.7 518.6h0M958.3 437.8h0M621.7 1067.4h0M759.7 1203.8h0M1077 524.4h0M933 478h0M703.7 1139.7h0M1038.5 554.3h0M884.7 782h0M1197.4 551.6h0M1167.7 486.2h0M882.5 604.9h0" stroke="#d3436e"/>
<path d="M972.8 736.6h0M1039.2 428.8h0M1420.7 989.7h0M1114 702.5h0M1238.7 673.5h0M708.3 881.6h0M1194.6 637.5h0M1134.7 540.1h0M1111.7 475.2h0M1187.2 518h0M724.8 703.6h0" stroke="#df4a68"/>
<path d="M1096.5 669.3h0M1204.2 648.4h0M655.2 1075.5h0M1095.9 536.7h0M1152.1 514.1h0M921.5 752.4h0M845.2 1052.3h0M483.5 798.8h0M741.7 706.8h0M1224.2 287.6h0M750.8 908.4h0" stroke="#e85362"/>
<path d="M1213 636.8h0M1080.7 276.1h0M935.3 780.6h0M1125.5 752.5h0M707.4 805.4h0M1160.1 262.8h0M542.8 775.5h0M558.4 891.4h0M822 525h0M425 993h0M429 980h0" stroke="#f05f5e"/>
<path d="M1142.1 370.1h0M1030 350h0M1113.3 469.3h0M1096.8 456.4h0M765.4 880.5h0M954.1 828.9h0M1178.3 580.2h0M455 1020h0" stroke="#f56b5c"/>
<path d="M909.2 539.5h0M1041.6 702.2h0M642 1100h0M928.9 483.2h0M1051 306.2h0M1200 572.2h0M738.1 1160.3h0M663.2 793.8h0M663.8 865.5h0M760.1 840.2h0M748.2 848h0M1143.2 466.2h0M848 503h0" stroke="#f9795d"/>
<path d="M696.6 668.9h0M708.8 854.6h0M1104.6 352.1h0M1099.5 259.8h0M1032.3 440.3h0M1148.5 538.5h0M640.9 839.4h0M628 774.2h0M1148.3 513.1h0" stroke="#fc8961"/>
<path d="M723.6 867.7h0M1145.2 694.8h0M917.5 907.1h0M941.4 499.3h0M761.8 780.5h0M1142.9 955.1h0M750.4 1182h0" stroke="#fd9668"/>
<path d="M1058.1 507.2h0M663.6 826.9h0M1163.6 559.9h0M417 973h0" stroke="#fea571"/>
<path d="M748.9 1172.4h0M498.6 906.6h0M697.5 964.2h0M1151.5 587.9h0" stroke="#feb27a"/>
<path d="M1164.6 554.1h0M465 1035h0" stroke="#fec185"/>
<path d="M1117.1 494.7h0" stroke="#fde9aa"/>
<path d="M911.9 513.1h0" stroke="#fcf7b9"/>
</g>
<path d="M245.0 140.7V1308.5500000000002M242.85 1306.4H1867.4" stroke="#000" stroke-width="4.3" fill="none"/>
<path d="M230.2 1253.6H245.0M230.2 989.1H245.0M230.2 724.6H245.0M230.2 460.2H245.0M230.2 195.7H245.0M318.6 1306.4V1321.0M809.5 1306.4V1321.0M1300.5 1306.4V1321.0M1791.4 1306.4V1321.0" stroke="#000" stroke-width="4.3" fill="none"/>
<g font-family="&quot;Liberation Sans&quot;, sans-serif" fill="#000">
<text x="215" y="1272" font-size="50" text-anchor="end">-5.0</text>
<text x="215" y="1007.5" font-size="50" text-anchor="end">-2.5</text>
<text x="215" y="743" font-size="50" text-anchor="end">0.0</text>
<text x="215" y="478.6" font-size="50" text-anchor="end">2.5</text>
<text x="215" y="214.1" font-size="50" text-anchor="end">5.0</text>
<text x="318.6" y="1370.3" font-size="50" text-anchor="middle">4</text>
<text x="809.5" y="1370.3" font-size="50" text-anchor="middle">8</text>
<text x="1300.5" y="1370.3" font-size="50" text-anchor="middle">12</text>
<text x="1791.4" y="1370.3" font-size="50" text-anchor="middle">16</text>
<text x="2018" y="902.7" font-size="50" text-anchor="start">0</text>
<text x="2018" y="784.9" font-size="50" text-anchor="start">1</text>
<text x="2018" y="667.2" font-size="50" text-anchor="start">2</text>
<text x="1054" y="1436.4" font-size="58" text-anchor="middle">umap_1</text>
<text x="94" y="725.4" font-size="58" text-anchor="middle" transform="rotate(-90 94 725.4)">umap_2</text>
<text x="1054" y="100" font-size="67" font-weight="bold" text-anchor="middle">GFOD1</text>
</g>
<defs><linearGradient id="mg" x1="0" y1="0" x2="0" y2="1"><stop offset="0.000" stop-color="#fcfdbf"/><stop offset="0.025" stop-color="#fcf2b4"/><stop offset="0.050" stop-color="#fde7a9"/><stop offset="0.075" stop-color="#fdda9c"/><stop offset="0.100" stop-color="#fecf92"/><stop offset="0.125" stop-color="#fec488"/><stop offset="0.150" stop-color="#feb77e"/><stop offset="0.175" stop-color="#feac76"/><stop offset="0.200" stop-color="#fe9f6d"/><stop offset="0.225" stop-color="#fd9467"/><stop offset="0.250" stop-color="#fc8961"/><stop offset="0.275" stop-color="#f97b5d"/><stop offset="0.300" stop-color="#f7705c"/><stop offset="0.325" stop-color="#f2645c"/><stop offset="0.350" stop-color="#ed5a5f"/><stop offset="0.375" stop-color="#e75263"/><stop offset="0.400" stop-color="#de4968"/><stop offset="0.425" stop-color="#d5446d"/><stop offset="0.450" stop-color="#ca3e72"/><stop offset="0.475" stop-color="#c03a76"/><stop offset="0.500" stop-color="#b73779"/><stop offset="0.525" stop-color="#ab337c"/><stop offset="0.550" stop-color="#a1307e"/><stop offset="0.575" stop-color="#962c80"/><stop offset="0.600" stop-color="#8c2981"/><stop offset="0.625" stop-color="#832681"/><stop offset="0.650" stop-color="#782281"/><stop offset="0.675" stop-color="#6e1e81"/><stop offset="0.700" stop-color="#641a80"/><stop offset="0.725" stop-color="#5a167e"/><stop offset="0.750" stop-color="#51127c"/><stop offset="0.775" stop-color="#451077"/><stop offset="0.800" stop-color="#3b0f70"/><stop offset="0.825" stop-color="#2f1163"/><stop offset="0.850" stop-color="#251255"/><stop offset="0.875" stop-color="#1d1147"/><stop offset="0.900" stop-color="#140e36"/><stop offset="0.925" stop-color="#0d0a29"/><stop offset="0.950" stop-color="#06051a"/><stop offset="0.975" stop-color="#02020d"/><stop offset="1.000" stop-color="#000004"/></linearGradient></defs>
<rect x="1923.1" y="565.0" width="64.2" height="319.6" fill="url(#mg)"/>
<path d="M1923.1 884.3h12.9M1987.3 884.3h-12.9M1923.1 766.5h12.9M1987.3 766.5h-12.9M1923.1 648.8h12.9M1987.3 648.8h-12.9" stroke="#fff" stroke-width="2.1" fill="none"/>
</svg>
<div class="sr">GFOD1 umap_1 umap_2 -5.0 -2.5 0.0 2.5 5.0 4 8 12 16 0 1 2</div>
</body></html>
